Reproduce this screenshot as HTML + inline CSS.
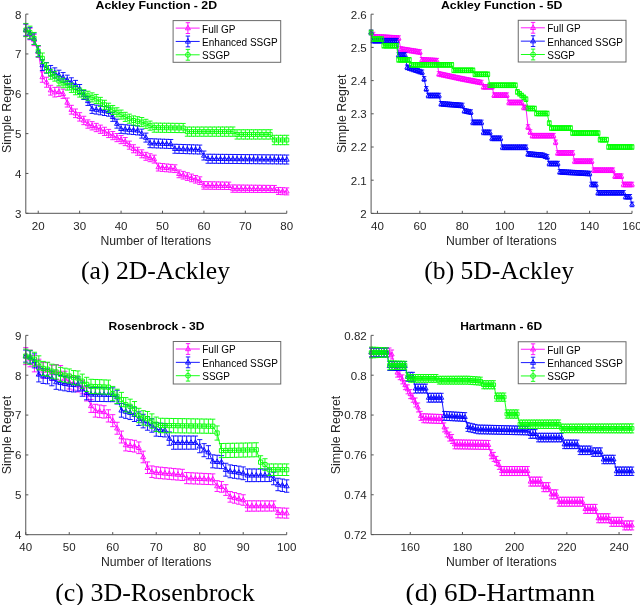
<!DOCTYPE html>
<html><head><meta charset="utf-8"><style>
html,body{margin:0;padding:0;background:#fff;width:640px;height:605px;overflow:hidden}
svg{display:block;will-change:transform}
</style></head><body>
<svg width="640" height="605" viewBox="0 0 640 605">
<rect width="640" height="605" fill="#fff"/>
<polyline fill="none" stroke="#ff00ff" stroke-width="0.9" points="25.8,30.04 29.94,34.02 34.08,40 38.23,51.95 42.37,77.05 46.51,82.23 50.65,90.19 54.79,92.19 58.94,91.79 63.08,93.78 67.22,102.54 71.36,109.72 75.5,113.3 79.65,116.89 83.79,120.47 87.93,124.06 92.07,125.78 96.22,127.51 100.36,129.24 104.5,131.36 108.64,133.49 112.78,135.61 116.93,137.6 121.07,139.6 125.21,141.59 129.35,145.17 133.49,148.76 137.64,151.28 141.78,153.81 145.92,156.33 150.06,157.72 154.2,159.12 158.35,167.09 162.49,167.48 166.63,167.88 170.77,168.28 174.91,168.68 179.06,173.86 183.2,175.21 187.34,176.57 191.48,177.92 195.62,179.28 199.77,180.63 203.91,185.41 208.05,185.48 212.19,185.54 216.33,185.61 220.48,185.68 224.62,185.74 228.76,185.81 232.9,188.6 237.05,188.64 241.19,188.68 245.33,188.72 249.47,188.76 253.61,188.8 257.76,188.84 261.9,188.88 266.04,188.92 270.18,188.96 274.32,189 278.47,190.99 282.61,191.19 286.75,191.39"/>
<path fill="none" stroke="#ff00ff" stroke-width="0.9" d="M25.8 24.04V36.04M23.3 24.04h5M23.3 36.04h5M29.94 28.22V39.82M27.44 28.22h5M27.44 39.82h5M34.08 34.4V45.6M31.58 34.4h5M31.58 45.6h5M38.23 46.55V57.35M35.73 46.55h5M35.73 57.35h5M42.37 71.85V82.25M39.87 71.85h5M39.87 82.25h5M46.51 77.23V87.23M44.01 77.23h5M44.01 87.23h5M50.65 85.29V95.09M48.15 85.29h5M48.15 95.09h5M54.79 87.39V96.99M52.29 87.39h5M52.29 96.99h5M58.94 87.09V96.49M56.44 87.09h5M56.44 96.49h5M63.08 89.18V98.38M60.58 89.18h5M60.58 98.38h5M67.22 98.04V107.04M64.72 98.04h5M64.72 107.04h5M71.36 105.32V114.12M68.86 105.32h5M68.86 114.12h5M75.5 109V117.6M73 109h5M73 117.6h5M79.65 112.69V121.09M77.15 112.69h5M77.15 121.09h5M83.79 116.29V124.66M81.29 116.29h5M81.29 124.66h5M87.93 119.89V128.23M85.43 119.89h5M85.43 128.23h5M92.07 121.63V129.94M89.57 121.63h5M89.57 129.94h5M96.22 123.37V131.66M93.72 123.37h5M93.72 131.66h5M100.36 125.11V133.37M97.86 125.11h5M97.86 133.37h5M104.5 127.25V135.48M102 127.25h5M102 135.48h5M108.64 129.39V137.59M106.14 129.39h5M106.14 137.59h5M112.78 131.52V139.7M110.28 131.52h5M110.28 139.7h5M116.93 133.53V141.68M114.43 133.53h5M114.43 141.68h5M121.07 135.54V143.66M118.57 135.54h5M118.57 143.66h5M125.21 137.54V145.63M122.71 137.54h5M122.71 145.63h5M129.35 141.14V149.21M126.85 141.14h5M126.85 149.21h5M133.49 144.74V152.78M130.99 144.74h5M130.99 152.78h5M137.64 147.28V155.29M135.14 147.28h5M135.14 155.29h5M141.78 149.82V157.8M139.28 149.82h5M139.28 157.8h5M145.92 152.35V160.3M143.42 152.35h5M143.42 160.3h5M150.06 153.76V161.69M147.56 153.76h5M147.56 161.69h5M154.2 155.17V163.07M151.7 155.17h5M151.7 163.07h5M158.35 163.15V171.02M155.85 163.15h5M155.85 171.02h5M162.49 163.56V171.4M159.99 163.56h5M159.99 171.4h5M166.63 163.98V171.79M164.13 163.98h5M164.13 171.79h5M170.77 164.39V172.17M168.27 164.39h5M168.27 172.17h5M174.91 164.8V172.56M172.41 164.8h5M172.41 172.56h5M179.06 169.99V177.72M176.56 169.99h5M176.56 177.72h5M183.2 171.36V179.06M180.7 171.36h5M180.7 179.06h5M187.34 172.73V180.4M184.84 172.73h5M184.84 180.4h5M191.48 174.1V181.74M188.98 174.1h5M188.98 181.74h5M195.62 175.47V183.08M193.12 175.47h5M193.12 183.08h5M199.77 176.84V184.43M197.27 176.84h5M197.27 184.43h5M203.91 181.63V189.19M201.41 181.63h5M201.41 189.19h5M208.05 181.71V189.24M205.55 181.71h5M205.55 189.24h5M212.19 181.79V189.3M209.69 181.79h5M209.69 189.3h5M216.33 181.87V189.35M213.83 181.87h5M213.83 189.35h5M220.48 181.95V189.4M217.98 181.95h5M217.98 189.4h5M224.62 182.03V189.45M222.12 182.03h5M222.12 189.45h5M228.76 182.11V189.51M226.26 182.11h5M226.26 189.51h5M232.9 184.92V192.28M230.4 184.92h5M230.4 192.28h5M237.05 184.97V192.31M234.55 184.97h5M234.55 192.31h5M241.19 185.02V192.33M238.69 185.02h5M238.69 192.33h5M245.33 185.08V192.36M242.83 185.08h5M242.83 192.36h5M249.47 185.13V192.38M246.97 185.13h5M246.97 192.38h5M253.61 185.19V192.41M251.11 185.19h5M251.11 192.41h5M257.76 185.24V192.44M255.26 185.24h5M255.26 192.44h5M261.9 185.29V192.46M259.4 185.29h5M259.4 192.46h5M266.04 185.35V192.49M263.54 185.35h5M263.54 192.49h5M270.18 185.4V192.51M267.68 185.4h5M267.68 192.51h5M274.32 185.46V192.54M271.82 185.46h5M271.82 192.54h5M278.47 187.46V194.52M275.97 187.46h5M275.97 194.52h5M282.61 187.67V194.7M280.11 187.67h5M280.11 194.7h5M286.75 187.89V194.89M284.25 187.89h5M284.25 194.89h5"/>
<path fill="none" stroke="#ff00ff" stroke-width="0.9" d="M25.8 27.31l2.42 4.4h-4.84zM29.94 31.29l2.42 4.4h-4.84zM34.08 37.27l2.42 4.4h-4.84zM38.23 49.22l2.42 4.4h-4.84zM42.37 74.32l2.42 4.4h-4.84zM46.51 79.5l2.42 4.4h-4.84zM50.65 87.47l2.42 4.4h-4.84zM54.79 89.46l2.42 4.4h-4.84zM58.94 89.06l2.42 4.4h-4.84zM63.08 91.05l2.42 4.4h-4.84zM67.22 99.82l2.42 4.4h-4.84zM71.36 106.99l2.42 4.4h-4.84zM75.5 110.57l2.42 4.4h-4.84zM79.65 114.16l2.42 4.4h-4.84zM83.79 117.74l2.42 4.4h-4.84zM87.93 121.33l2.42 4.4h-4.84zM92.07 123.06l2.42 4.4h-4.84zM96.22 124.78l2.42 4.4h-4.84zM100.36 126.51l2.42 4.4h-4.84zM104.5 128.63l2.42 4.4h-4.84zM108.64 130.76l2.42 4.4h-4.84zM112.78 132.88l2.42 4.4h-4.84zM116.93 134.88l2.42 4.4h-4.84zM121.07 136.87l2.42 4.4h-4.84zM125.21 138.86l2.42 4.4h-4.84zM129.35 142.45l2.42 4.4h-4.84zM133.49 146.03l2.42 4.4h-4.84zM137.64 148.55l2.42 4.4h-4.84zM141.78 151.08l2.42 4.4h-4.84zM145.92 153.6l2.42 4.4h-4.84zM150.06 155l2.42 4.4h-4.84zM154.2 156.39l2.42 4.4h-4.84zM158.35 164.36l2.42 4.4h-4.84zM162.49 164.76l2.42 4.4h-4.84zM166.63 165.15l2.42 4.4h-4.84zM170.77 165.55l2.42 4.4h-4.84zM174.91 165.95l2.42 4.4h-4.84zM179.06 171.13l2.42 4.4h-4.84zM183.2 172.48l2.42 4.4h-4.84zM187.34 173.84l2.42 4.4h-4.84zM191.48 175.19l2.42 4.4h-4.84zM195.62 176.55l2.42 4.4h-4.84zM199.77 177.9l2.42 4.4h-4.84zM203.91 182.68l2.42 4.4h-4.84zM208.05 182.75l2.42 4.4h-4.84zM212.19 182.82l2.42 4.4h-4.84zM216.33 182.88l2.42 4.4h-4.84zM220.48 182.95l2.42 4.4h-4.84zM224.62 183.02l2.42 4.4h-4.84zM228.76 183.08l2.42 4.4h-4.84zM232.9 185.87l2.42 4.4h-4.84zM237.05 185.91l2.42 4.4h-4.84zM241.19 185.95l2.42 4.4h-4.84zM245.33 185.99l2.42 4.4h-4.84zM249.47 186.03l2.42 4.4h-4.84zM253.61 186.07l2.42 4.4h-4.84zM257.76 186.11l2.42 4.4h-4.84zM261.9 186.15l2.42 4.4h-4.84zM266.04 186.19l2.42 4.4h-4.84zM270.18 186.23l2.42 4.4h-4.84zM274.32 186.27l2.42 4.4h-4.84zM278.47 188.26l2.42 4.4h-4.84zM282.61 188.46l2.42 4.4h-4.84zM286.75 188.66l2.42 4.4h-4.84z"/>
<polyline fill="none" stroke="#0000ff" stroke-width="0.9" points="25.8,30.04 29.94,33.22 34.08,38.8 38.23,51.15 42.37,65.1 46.51,67.88 50.65,70.67 54.79,72.93 58.94,75.19 63.08,77.45 67.22,79.97 71.36,82.49 75.5,85.02 79.65,89 83.79,94.98 87.93,100.95 92.07,108.92 96.22,109.62 100.36,110.31 104.5,111.01 108.64,111.71 112.78,116.89 116.93,123.66 121.07,128.84 125.21,129.24 129.35,129.64 133.49,130.03 137.64,130.43 141.78,133.62 145.92,137.6 150.06,143.18 154.2,143.34 158.35,143.5 162.49,143.66 166.63,143.82 170.77,143.98 174.91,148.76 179.06,148.89 183.2,149.02 187.34,149.16 191.48,149.29 195.62,149.42 199.77,149.56 203.91,155.53 208.05,158.72 212.19,158.76 216.33,158.8 220.48,158.85 224.62,158.89 228.76,158.93 232.9,158.97 237.05,159.01 241.19,159.05 245.33,159.1 249.47,159.14 253.61,159.18 257.76,159.22 261.9,159.26 266.04,159.31 270.18,159.35 274.32,159.39 278.47,159.43 282.61,159.47 286.75,159.52"/>
<path fill="none" stroke="#0000ff" stroke-width="0.9" d="M25.8 24.04V36.04M23.3 24.04h5M23.3 36.04h5M29.94 27.36V39.08M27.44 27.36h5M27.44 39.08h5M34.08 33.08V44.52M31.58 33.08h5M31.58 44.52h5M38.23 45.57V56.73M35.73 45.57h5M35.73 56.73h5M42.37 59.66V70.54M39.87 59.66h5M39.87 70.54h5M46.51 62.58V73.18M44.01 62.58h5M44.01 73.18h5M50.65 65.47V75.87M48.15 65.47h5M48.15 75.87h5M54.79 67.83V78.03M52.29 67.83h5M52.29 78.03h5M58.94 70.19V80.19M56.44 70.19h5M56.44 80.19h5M63.08 72.55V82.35M60.58 72.55h5M60.58 82.35h5M67.22 75.17V84.77M64.72 75.17h5M64.72 84.77h5M71.36 77.79V87.19M68.86 77.79h5M68.86 87.19h5M75.5 80.42V89.62M73 80.42h5M73 89.62h5M79.65 84.5V93.5M77.15 84.5h5M77.15 93.5h5M83.79 90.48V99.48M81.29 90.48h5M81.29 99.48h5M87.93 96.45V105.45M85.43 96.45h5M85.43 105.45h5M92.07 104.42V113.42M89.57 104.42h5M89.57 113.42h5M96.22 105.12V114.12M93.72 105.12h5M93.72 114.12h5M100.36 105.81V114.81M97.86 105.81h5M97.86 114.81h5M104.5 106.51V115.51M102 106.51h5M102 115.51h5M108.64 107.21V116.21M106.14 107.21h5M106.14 116.21h5M112.78 112.39V121.39M110.28 112.39h5M110.28 121.39h5M116.93 119.16V128.16M114.43 119.16h5M114.43 128.16h5M121.07 124.34V133.34M118.57 124.34h5M118.57 133.34h5M125.21 124.74V133.74M122.71 124.74h5M122.71 133.74h5M129.35 125.14V134.14M126.85 125.14h5M126.85 134.14h5M133.49 125.53V134.53M130.99 125.53h5M130.99 134.53h5M137.64 125.93V134.93M135.14 125.93h5M135.14 134.93h5M141.78 129.12V138.12M139.28 129.12h5M139.28 138.12h5M145.92 133.1V142.1M143.42 133.1h5M143.42 142.1h5M150.06 138.68V147.68M147.56 138.68h5M147.56 147.68h5M154.2 138.84V147.84M151.7 138.84h5M151.7 147.84h5M158.35 139V148M155.85 139h5M155.85 148h5M162.49 139.16V148.16M159.99 139.16h5M159.99 148.16h5M166.63 139.32V148.32M164.13 139.32h5M164.13 148.32h5M170.77 139.48V148.48M168.27 139.48h5M168.27 148.48h5M174.91 144.26V153.26M172.41 144.26h5M172.41 153.26h5M179.06 144.39V153.39M176.56 144.39h5M176.56 153.39h5M183.2 144.52V153.52M180.7 144.52h5M180.7 153.52h5M187.34 144.66V153.66M184.84 144.66h5M184.84 153.66h5M191.48 144.79V153.79M188.98 144.79h5M188.98 153.79h5M195.62 144.92V153.92M193.12 144.92h5M193.12 153.92h5M199.77 145.06V154.06M197.27 145.06h5M197.27 154.06h5M203.91 151.03V160.03M201.41 151.03h5M201.41 160.03h5M208.05 154.22V163.22M205.55 154.22h5M205.55 163.22h5M212.19 154.26V163.26M209.69 154.26h5M209.69 163.26h5M216.33 154.3V163.3M213.83 154.3h5M213.83 163.3h5M220.48 154.35V163.35M217.98 154.35h5M217.98 163.35h5M224.62 154.39V163.39M222.12 154.39h5M222.12 163.39h5M228.76 154.43V163.43M226.26 154.43h5M226.26 163.43h5M232.9 154.47V163.47M230.4 154.47h5M230.4 163.47h5M237.05 154.51V163.51M234.55 154.51h5M234.55 163.51h5M241.19 154.55V163.55M238.69 154.55h5M238.69 163.55h5M245.33 154.6V163.6M242.83 154.6h5M242.83 163.6h5M249.47 154.64V163.64M246.97 154.64h5M246.97 163.64h5M253.61 154.68V163.68M251.11 154.68h5M251.11 163.68h5M257.76 154.72V163.72M255.26 154.72h5M255.26 163.72h5M261.9 154.76V163.76M259.4 154.76h5M259.4 163.76h5M266.04 154.81V163.81M263.54 154.81h5M263.54 163.81h5M270.18 154.85V163.85M267.68 154.85h5M267.68 163.85h5M274.32 154.89V163.89M271.82 154.89h5M271.82 163.89h5M278.47 154.93V163.93M275.97 154.93h5M275.97 163.93h5M282.61 154.97V163.97M280.11 154.97h5M280.11 163.97h5M286.75 155.02V164.02M284.25 155.02h5M284.25 164.02h5"/>
<path fill="none" stroke="#0000ff" stroke-width="0.9" d="M25.8 27.31l2.42 4.4h-4.84zM29.94 30.5l2.42 4.4h-4.84zM34.08 36.07l2.42 4.4h-4.84zM38.23 48.42l2.42 4.4h-4.84zM42.37 62.37l2.42 4.4h-4.84zM46.51 65.16l2.42 4.4h-4.84zM50.65 67.94l2.42 4.4h-4.84zM54.79 70.2l2.42 4.4h-4.84zM58.94 72.46l2.42 4.4h-4.84zM63.08 74.72l2.42 4.4h-4.84zM67.22 77.24l2.42 4.4h-4.84zM71.36 79.76l2.42 4.4h-4.84zM75.5 82.29l2.42 4.4h-4.84zM79.65 86.27l2.42 4.4h-4.84zM83.79 92.25l2.42 4.4h-4.84zM87.93 98.22l2.42 4.4h-4.84zM92.07 106.19l2.42 4.4h-4.84zM96.22 106.89l2.42 4.4h-4.84zM100.36 107.59l2.42 4.4h-4.84zM104.5 108.28l2.42 4.4h-4.84zM108.64 108.98l2.42 4.4h-4.84zM112.78 114.16l2.42 4.4h-4.84zM116.93 120.93l2.42 4.4h-4.84zM121.07 126.11l2.42 4.4h-4.84zM125.21 126.51l2.42 4.4h-4.84zM129.35 126.91l2.42 4.4h-4.84zM133.49 127.31l2.42 4.4h-4.84zM137.64 127.7l2.42 4.4h-4.84zM141.78 130.89l2.42 4.4h-4.84zM145.92 134.88l2.42 4.4h-4.84zM150.06 140.45l2.42 4.4h-4.84zM154.2 140.61l2.42 4.4h-4.84zM158.35 140.77l2.42 4.4h-4.84zM162.49 140.93l2.42 4.4h-4.84zM166.63 141.09l2.42 4.4h-4.84zM170.77 141.25l2.42 4.4h-4.84zM174.91 146.03l2.42 4.4h-4.84zM179.06 146.16l2.42 4.4h-4.84zM183.2 146.3l2.42 4.4h-4.84zM187.34 146.43l2.42 4.4h-4.84zM191.48 146.56l2.42 4.4h-4.84zM195.62 146.7l2.42 4.4h-4.84zM199.77 146.83l2.42 4.4h-4.84zM203.91 152.8l2.42 4.4h-4.84zM208.05 155.99l2.42 4.4h-4.84zM212.19 156.03l2.42 4.4h-4.84zM216.33 156.08l2.42 4.4h-4.84zM220.48 156.12l2.42 4.4h-4.84zM224.62 156.16l2.42 4.4h-4.84zM228.76 156.2l2.42 4.4h-4.84zM232.9 156.24l2.42 4.4h-4.84zM237.05 156.28l2.42 4.4h-4.84zM241.19 156.33l2.42 4.4h-4.84zM245.33 156.37l2.42 4.4h-4.84zM249.47 156.41l2.42 4.4h-4.84zM253.61 156.45l2.42 4.4h-4.84zM257.76 156.49l2.42 4.4h-4.84zM261.9 156.54l2.42 4.4h-4.84zM266.04 156.58l2.42 4.4h-4.84zM270.18 156.62l2.42 4.4h-4.84zM274.32 156.66l2.42 4.4h-4.84zM278.47 156.7l2.42 4.4h-4.84zM282.61 156.75l2.42 4.4h-4.84zM286.75 156.79l2.42 4.4h-4.84z"/>
<polyline fill="none" stroke="#00ff00" stroke-width="0.9" points="25.8,30.04 29.94,32.43 34.08,38.4 38.23,51.15 42.37,58.32 46.51,67.88 50.65,74.26 54.79,76.25 58.94,81.03 63.08,83.02 67.22,85.41 71.36,87.8 75.5,90.19 79.65,92.58 83.79,94.18 87.93,95.77 92.07,97.37 96.22,98.96 100.36,101.88 104.5,104.8 108.64,107.72 112.78,110.01 116.93,112.31 121.07,114.6 125.21,116.89 129.35,118.68 133.49,120.47 137.64,121.27 141.78,122.07 145.92,123.86 150.06,125.65 154.2,127.64 158.35,127.7 162.49,127.76 166.63,127.81 170.77,127.87 174.91,127.93 179.06,127.99 183.2,128.04 187.34,131.63 191.48,131.63 195.62,131.63 199.77,131.63 203.91,131.63 208.05,131.63 212.19,131.63 216.33,131.63 220.48,131.63 224.62,131.63 228.76,131.63 232.9,131.63 237.05,134.42 241.19,134.42 245.33,134.42 249.47,134.42 253.61,134.42 257.76,134.42 261.9,134.42 266.04,134.42 270.18,134.42 274.32,139.99 278.47,139.99 282.61,139.99 286.75,139.99"/>
<path fill="none" stroke="#00ff00" stroke-width="0.9" d="M25.8 23.44V36.64M23.3 23.44h5M23.3 36.64h5M29.94 26.15V38.71M27.44 26.15h5M27.44 38.71h5M34.08 32.44V44.36M31.58 32.44h5M31.58 44.36h5M38.23 45.51V56.79M35.73 45.51h5M35.73 56.79h5M42.37 53V63.64M39.87 53h5M39.87 63.64h5M46.51 62.88V72.88M44.01 62.88h5M44.01 72.88h5M50.65 69.32V79.2M48.15 69.32h5M48.15 79.2h5M54.79 71.38V81.13M52.29 71.38h5M52.29 81.13h5M58.94 76.22V85.84M56.44 76.22h5M56.44 85.84h5M63.08 78.27V87.77M60.58 78.27h5M60.58 87.77h5M67.22 80.73V90.1M64.72 80.73h5M64.72 90.1h5M71.36 83.18V92.43M68.86 83.18h5M68.86 92.43h5M75.5 85.63V94.76M73 85.63h5M73 94.76h5M79.65 88.08V97.08M77.15 88.08h5M77.15 97.08h5M83.79 89.67V98.68M81.29 89.67h5M81.29 98.68h5M87.93 91.26V100.28M85.43 91.26h5M85.43 100.28h5M92.07 92.85V101.88M89.57 92.85h5M89.57 101.88h5M96.22 94.44V103.48M93.72 94.44h5M93.72 103.48h5M100.36 97.36V106.4M97.86 97.36h5M97.86 106.4h5M104.5 100.28V109.33M102 100.28h5M102 109.33h5M108.64 103.2V112.25M106.14 103.2h5M106.14 112.25h5M112.78 105.48V114.55M110.28 105.48h5M110.28 114.55h5M116.93 107.77V116.84M114.43 107.77h5M114.43 116.84h5M121.07 110.06V119.14M118.57 110.06h5M118.57 119.14h5M125.21 112.34V121.43M122.71 112.34h5M122.71 121.43h5M129.35 114.13V123.23M126.85 114.13h5M126.85 123.23h5M133.49 115.92V125.02M130.99 115.92h5M130.99 125.02h5M137.64 116.71V125.83M135.14 116.71h5M135.14 125.83h5M141.78 117.51V126.63M139.28 117.51h5M139.28 126.63h5M145.92 119.3V128.42M143.42 119.3h5M143.42 128.42h5M150.06 121.08V130.22M147.56 121.08h5M147.56 130.22h5M154.2 123.07V132.22M151.7 123.07h5M151.7 132.22h5M158.35 123.12V132.28M155.85 123.12h5M155.85 132.28h5M162.49 123.18V132.34M159.99 123.18h5M159.99 132.34h5M166.63 123.23V132.4M164.13 123.23h5M164.13 132.4h5M170.77 123.28V132.46M168.27 123.28h5M168.27 132.46h5M174.91 123.34V132.52M172.41 123.34h5M172.41 132.52h5M179.06 123.39V132.58M176.56 123.39h5M176.56 132.58h5M183.2 123.44V132.64M180.7 123.44h5M180.7 132.64h5M187.34 127.02V136.23M184.84 127.02h5M184.84 136.23h5M191.48 127.02V136.24M188.98 127.02h5M188.98 136.24h5M195.62 127.02V136.24M193.12 127.02h5M193.12 136.24h5M199.77 127.01V136.24M197.27 127.01h5M197.27 136.24h5M203.91 127.01V136.25M201.41 127.01h5M201.41 136.25h5M208.05 127V136.25M205.55 127h5M205.55 136.25h5M212.19 127V136.26M209.69 127h5M209.69 136.26h5M216.33 127V136.26M213.83 127h5M213.83 136.26h5M220.48 126.99V136.26M217.98 126.99h5M217.98 136.26h5M224.62 126.99V136.27M222.12 126.99h5M222.12 136.27h5M228.76 126.98V136.27M226.26 126.98h5M226.26 136.27h5M232.9 126.98V136.28M230.4 126.98h5M230.4 136.28h5M237.05 129.76V139.07M234.55 129.76h5M234.55 139.07h5M241.19 129.76V139.07M238.69 129.76h5M238.69 139.07h5M245.33 129.76V139.08M242.83 129.76h5M242.83 139.08h5M249.47 129.75V139.08M246.97 129.75h5M246.97 139.08h5M253.61 129.75V139.08M251.11 129.75h5M251.11 139.08h5M257.76 129.74V139.09M255.26 129.74h5M255.26 139.09h5M261.9 129.74V139.09M259.4 129.74h5M259.4 139.09h5M266.04 129.74V139.1M263.54 129.74h5M263.54 139.1h5M270.18 129.73V139.1M267.68 129.73h5M267.68 139.1h5M274.32 135.31V144.68M271.82 135.31h5M271.82 144.68h5M278.47 135.3V144.69M275.97 135.3h5M275.97 144.69h5M282.61 135.3V144.69M280.11 135.3h5M280.11 144.69h5M286.75 135.29V144.69M284.25 135.29h5M284.25 144.69h5"/>
<path fill="none" stroke="#00ff00" stroke-width="0.9" d="M23.8 28.04h4v4h-4zM27.94 30.43h4v4h-4zM32.08 36.4h4v4h-4zM36.23 49.15h4v4h-4zM40.37 56.32h4v4h-4zM44.51 65.88h4v4h-4zM48.65 72.26h4v4h-4zM52.79 74.25h4v4h-4zM56.94 79.03h4v4h-4zM61.08 81.02h4v4h-4zM65.22 83.41h4v4h-4zM69.36 85.8h4v4h-4zM73.5 88.19h4v4h-4zM77.65 90.58h4v4h-4zM81.79 92.18h4v4h-4zM85.93 93.77h4v4h-4zM90.07 95.37h4v4h-4zM94.22 96.96h4v4h-4zM98.36 99.88h4v4h-4zM102.5 102.8h4v4h-4zM106.64 105.72h4v4h-4zM110.78 108.01h4v4h-4zM114.93 110.31h4v4h-4zM119.07 112.6h4v4h-4zM123.21 114.89h4v4h-4zM127.35 116.68h4v4h-4zM131.49 118.47h4v4h-4zM135.64 119.27h4v4h-4zM139.78 120.07h4v4h-4zM143.92 121.86h4v4h-4zM148.06 123.65h4v4h-4zM152.2 125.64h4v4h-4zM156.35 125.7h4v4h-4zM160.49 125.76h4v4h-4zM164.63 125.81h4v4h-4zM168.77 125.87h4v4h-4zM172.91 125.93h4v4h-4zM177.06 125.99h4v4h-4zM181.2 126.04h4v4h-4zM185.34 129.63h4v4h-4zM189.48 129.63h4v4h-4zM193.62 129.63h4v4h-4zM197.77 129.63h4v4h-4zM201.91 129.63h4v4h-4zM206.05 129.63h4v4h-4zM210.19 129.63h4v4h-4zM214.33 129.63h4v4h-4zM218.48 129.63h4v4h-4zM222.62 129.63h4v4h-4zM226.76 129.63h4v4h-4zM230.9 129.63h4v4h-4zM235.05 132.42h4v4h-4zM239.19 132.42h4v4h-4zM243.33 132.42h4v4h-4zM247.47 132.42h4v4h-4zM251.61 132.42h4v4h-4zM255.76 132.42h4v4h-4zM259.9 132.42h4v4h-4zM264.04 132.42h4v4h-4zM268.18 132.42h4v4h-4zM272.32 137.99h4v4h-4zM276.47 137.99h4v4h-4zM280.61 137.99h4v4h-4zM284.75 137.99h4v4h-4z"/>
<path fill="none" stroke="#555" stroke-width="1" d="M25.8 14.1V213.3H286.75M38.23 213.3v-2.6M79.65 213.3v-2.6M121.07 213.3v-2.6M162.49 213.3v-2.6M203.91 213.3v-2.6M245.33 213.3v-2.6M286.75 213.3v-2.6M25.8 213.3h2.6M25.8 173.46h2.6M25.8 133.62h2.6M25.8 93.78h2.6M25.8 53.94h2.6M25.8 14.1h2.6"/>
<text x="38.23" y="229.9" font-size="10.5" text-anchor="middle" font-weight="normal" font-family='"Liberation Sans", sans-serif' fill="#262626" textLength="12.84" lengthAdjust="spacingAndGlyphs">20</text>
<text x="79.65" y="229.9" font-size="10.5" text-anchor="middle" font-weight="normal" font-family='"Liberation Sans", sans-serif' fill="#262626" textLength="12.84" lengthAdjust="spacingAndGlyphs">30</text>
<text x="121.07" y="229.9" font-size="10.5" text-anchor="middle" font-weight="normal" font-family='"Liberation Sans", sans-serif' fill="#262626" textLength="12.84" lengthAdjust="spacingAndGlyphs">40</text>
<text x="162.49" y="229.9" font-size="10.5" text-anchor="middle" font-weight="normal" font-family='"Liberation Sans", sans-serif' fill="#262626" textLength="12.84" lengthAdjust="spacingAndGlyphs">50</text>
<text x="203.91" y="229.9" font-size="10.5" text-anchor="middle" font-weight="normal" font-family='"Liberation Sans", sans-serif' fill="#262626" textLength="12.84" lengthAdjust="spacingAndGlyphs">60</text>
<text x="245.33" y="229.9" font-size="10.5" text-anchor="middle" font-weight="normal" font-family='"Liberation Sans", sans-serif' fill="#262626" textLength="12.84" lengthAdjust="spacingAndGlyphs">70</text>
<text x="286.75" y="229.9" font-size="10.5" text-anchor="middle" font-weight="normal" font-family='"Liberation Sans", sans-serif' fill="#262626" textLength="12.84" lengthAdjust="spacingAndGlyphs">80</text>
<text x="21.5" y="217.7" font-size="10.5" text-anchor="end" font-weight="normal" font-family='"Liberation Sans", sans-serif' fill="#262626" textLength="6.42" lengthAdjust="spacingAndGlyphs">3</text>
<text x="21.5" y="177.86" font-size="10.5" text-anchor="end" font-weight="normal" font-family='"Liberation Sans", sans-serif' fill="#262626" textLength="6.42" lengthAdjust="spacingAndGlyphs">4</text>
<text x="21.5" y="138.02" font-size="10.5" text-anchor="end" font-weight="normal" font-family='"Liberation Sans", sans-serif' fill="#262626" textLength="6.42" lengthAdjust="spacingAndGlyphs">5</text>
<text x="21.5" y="98.18" font-size="10.5" text-anchor="end" font-weight="normal" font-family='"Liberation Sans", sans-serif' fill="#262626" textLength="6.42" lengthAdjust="spacingAndGlyphs">6</text>
<text x="21.5" y="58.34" font-size="10.5" text-anchor="end" font-weight="normal" font-family='"Liberation Sans", sans-serif' fill="#262626" textLength="6.42" lengthAdjust="spacingAndGlyphs">7</text>
<text x="21.5" y="18.5" font-size="10.5" text-anchor="end" font-weight="normal" font-family='"Liberation Sans", sans-serif' fill="#262626" textLength="6.42" lengthAdjust="spacingAndGlyphs">8</text>
<text x="156.3" y="9.1" font-size="11.7" text-anchor="middle" font-weight="bold" font-family='"Liberation Sans", sans-serif' fill="#000" textLength="121.5" lengthAdjust="spacingAndGlyphs">Ackley Function - 2D</text>
<text x="155.75" y="245.1" font-size="12.2" text-anchor="middle" font-weight="normal" font-family='"Liberation Sans", sans-serif' fill="#262626" textLength="110.5" lengthAdjust="spacingAndGlyphs">Number of Iterations</text>
<text transform="translate(10.9 113.7) rotate(-90)" font-size="12.3" text-anchor="middle" font-family='"Liberation Sans", sans-serif' fill="#262626" textLength="78.4" lengthAdjust="spacingAndGlyphs">Simple Regret</text>
<text x="155.5" y="278.6" font-size="25" text-anchor="middle" font-weight="normal" font-family='"Liberation Serif", serif' fill="#000" textLength="149" lengthAdjust="spacingAndGlyphs">(a) 2D-Ackley</text>
<rect x="173.1" y="20.6" width="107.6" height="41.7" fill="#fff" stroke="#6a6a6a" stroke-width="1"/>
<path fill="none" stroke="#ff00ff" stroke-width="0.9" d="M175.7 28.1h24M187.9 22.7v10.8M185.7 22.7h4.4M185.7 33.5h4.4M187.9 25.2l2.5 4.6h-5z"/>
<text x="202.1" y="32.5" font-size="10" text-anchor="start" font-weight="normal" font-family='"Liberation Sans", sans-serif' fill="#000" >Full GP</text>
<path fill="none" stroke="#0000ff" stroke-width="0.9" d="M175.7 41.45h24M187.9 36.05v10.8M185.7 36.05h4.4M185.7 46.85h4.4M187.9 38.55l2.5 4.6h-5z"/>
<text x="202.1" y="45.85" font-size="10" text-anchor="start" font-weight="normal" font-family='"Liberation Sans", sans-serif' fill="#000" >Enhanced SSGP</text>
<path fill="none" stroke="#00ff00" stroke-width="0.9" d="M175.7 54.8h24M187.9 49.4v10.8M185.7 49.4h4.4M185.7 60.2h4.4M185.5 54.8a2.4 2.4 0 1 0 4.8 0a2.4 2.4 0 1 0 -4.8 0"/>
<text x="202.1" y="59.2" font-size="10" text-anchor="start" font-weight="normal" font-family='"Liberation Sans", sans-serif' fill="#000" >SSGP</text>
<polyline fill="none" stroke="#ff00ff" stroke-width="0.9" points="371.1,32.46 373.22,34.62 375.34,36.78 377.46,36.9 379.58,37.02 381.71,37.14 383.83,37.26 385.95,37.38 388.07,37.5 390.19,37.62 392.31,37.74 394.43,37.86 396.55,37.98 398.67,38.1 400.8,49.06 402.92,49.39 405.04,49.72 407.16,50.06 409.28,50.39 411.4,50.72 413.52,51.05 415.64,51.38 417.77,51.72 419.89,52.05 422.01,59.85 424.13,59.97 426.25,60.09 428.37,60.21 430.49,60.32 432.61,60.44 434.73,60.56 436.86,60.68 438.98,73.96 441.1,74.41 443.22,74.87 445.34,75.32 447.46,75.77 449.58,76.22 451.7,76.68 453.82,77.13 455.95,77.58 458.07,78.03 460.19,78.49 462.31,78.94 464.43,79.35 466.55,79.75 468.67,80.16 470.79,80.56 472.91,80.97 475.04,81.37 477.16,81.78 479.28,82.19 481.4,82.59 483.52,86.91 485.64,86.91 487.76,86.91 489.88,86.91 492,86.91 494.13,95.21 496.25,95.21 498.37,95.21 500.49,95.21 502.61,95.21 504.73,95.21 506.85,95.21 508.97,102.51 511.1,102.51 513.22,102.51 515.34,102.51 517.46,102.51 519.58,102.51 521.7,102.51 523.82,107.49 525.94,107.49 528.06,127.08 530.19,132.06 532.31,135.71 534.43,135.71 536.55,135.71 538.67,135.71 540.79,135.71 542.91,135.71 545.03,135.71 547.15,135.71 549.28,135.71 551.4,135.71 553.52,135.71 555.64,142.35 557.76,152.98 559.88,152.98 562,152.98 564.12,152.98 566.24,152.98 568.37,152.98 570.49,152.98 572.61,152.98 574.73,161.28 576.85,161.28 578.97,161.28 581.09,161.28 583.21,161.28 585.33,161.28 587.46,161.28 589.58,161.28 591.7,161.28 593.82,170.24 595.94,170.24 598.06,170.24 600.18,170.24 602.3,170.24 604.43,170.24 606.55,170.24 608.67,170.24 610.79,170.24 612.91,170.24 615.03,176.22 617.15,176.22 619.27,176.22 621.39,176.22 623.52,184.52 625.64,184.52 627.76,184.52 629.88,184.52 632,184.52"/>
<path fill="none" stroke="#ff00ff" stroke-width="0.9" d="M371.1 30.16V34.76M368.9 30.16h4.4M368.9 34.76h4.4M373.22 32.32V36.92M371.02 32.32h4.4M371.02 36.92h4.4M375.34 34.48V39.08M373.14 34.48h4.4M373.14 39.08h4.4M377.46 34.6V39.2M375.26 34.6h4.4M375.26 39.2h4.4M379.58 34.72V39.32M377.38 34.72h4.4M377.38 39.32h4.4M381.71 34.84V39.44M379.51 34.84h4.4M379.51 39.44h4.4M383.83 34.96V39.56M381.63 34.96h4.4M381.63 39.56h4.4M385.95 35.08V39.68M383.75 35.08h4.4M383.75 39.68h4.4M388.07 35.2V39.8M385.87 35.2h4.4M385.87 39.8h4.4M390.19 35.32V39.92M387.99 35.32h4.4M387.99 39.92h4.4M392.31 35.44V40.04M390.11 35.44h4.4M390.11 40.04h4.4M394.43 35.56V40.16M392.23 35.56h4.4M392.23 40.16h4.4M396.55 35.68V40.28M394.35 35.68h4.4M394.35 40.28h4.4M398.67 35.8V40.4M396.47 35.8h4.4M396.47 40.4h4.4M400.8 46.76V51.36M398.6 46.76h4.4M398.6 51.36h4.4M402.92 47.09V51.69M400.72 47.09h4.4M400.72 51.69h4.4M405.04 47.42V52.02M402.84 47.42h4.4M402.84 52.02h4.4M407.16 47.76V52.36M404.96 47.76h4.4M404.96 52.36h4.4M409.28 48.09V52.69M407.08 48.09h4.4M407.08 52.69h4.4M411.4 48.42V53.02M409.2 48.42h4.4M409.2 53.02h4.4M413.52 48.75V53.35M411.32 48.75h4.4M411.32 53.35h4.4M415.64 49.08V53.68M413.44 49.08h4.4M413.44 53.68h4.4M417.77 49.42V54.02M415.57 49.42h4.4M415.57 54.02h4.4M419.89 49.75V54.35M417.69 49.75h4.4M417.69 54.35h4.4M422.01 57.55V62.15M419.81 57.55h4.4M419.81 62.15h4.4M424.13 57.67V62.27M421.93 57.67h4.4M421.93 62.27h4.4M426.25 57.79V62.39M424.05 57.79h4.4M424.05 62.39h4.4M428.37 57.91V62.51M426.17 57.91h4.4M426.17 62.51h4.4M430.49 58.02V62.62M428.29 58.02h4.4M428.29 62.62h4.4M432.61 58.14V62.74M430.41 58.14h4.4M430.41 62.74h4.4M434.73 58.26V62.86M432.53 58.26h4.4M432.53 62.86h4.4M436.86 58.38V62.98M434.66 58.38h4.4M434.66 62.98h4.4M438.98 71.66V76.26M436.78 71.66h4.4M436.78 76.26h4.4M441.1 72.11V76.71M438.9 72.11h4.4M438.9 76.71h4.4M443.22 72.57V77.17M441.02 72.57h4.4M441.02 77.17h4.4M445.34 73.02V77.62M443.14 73.02h4.4M443.14 77.62h4.4M447.46 73.47V78.07M445.26 73.47h4.4M445.26 78.07h4.4M449.58 73.92V78.52M447.38 73.92h4.4M447.38 78.52h4.4M451.7 74.38V78.98M449.5 74.38h4.4M449.5 78.98h4.4M453.82 74.83V79.43M451.62 74.83h4.4M451.62 79.43h4.4M455.95 75.28V79.88M453.75 75.28h4.4M453.75 79.88h4.4M458.07 75.73V80.33M455.87 75.73h4.4M455.87 80.33h4.4M460.19 76.19V80.79M457.99 76.19h4.4M457.99 80.79h4.4M462.31 76.64V81.24M460.11 76.64h4.4M460.11 81.24h4.4M464.43 77.05V81.65M462.23 77.05h4.4M462.23 81.65h4.4M466.55 77.45V82.05M464.35 77.45h4.4M464.35 82.05h4.4M468.67 77.86V82.46M466.47 77.86h4.4M466.47 82.46h4.4M470.79 78.26V82.86M468.59 78.26h4.4M468.59 82.86h4.4M472.91 78.67V83.27M470.71 78.67h4.4M470.71 83.27h4.4M475.04 79.07V83.67M472.84 79.07h4.4M472.84 83.67h4.4M477.16 79.48V84.08M474.96 79.48h4.4M474.96 84.08h4.4M479.28 79.89V84.49M477.08 79.89h4.4M477.08 84.49h4.4M481.4 80.29V84.89M479.2 80.29h4.4M479.2 84.89h4.4M483.52 84.61V89.21M481.32 84.61h4.4M481.32 89.21h4.4M485.64 84.61V89.21M483.44 84.61h4.4M483.44 89.21h4.4M487.76 84.61V89.21M485.56 84.61h4.4M485.56 89.21h4.4M489.88 84.61V89.21M487.68 84.61h4.4M487.68 89.21h4.4M492 84.61V89.21M489.8 84.61h4.4M489.8 89.21h4.4M494.13 92.91V97.51M491.93 92.91h4.4M491.93 97.51h4.4M496.25 92.91V97.51M494.05 92.91h4.4M494.05 97.51h4.4M498.37 92.91V97.51M496.17 92.91h4.4M496.17 97.51h4.4M500.49 92.91V97.51M498.29 92.91h4.4M498.29 97.51h4.4M502.61 92.91V97.51M500.41 92.91h4.4M500.41 97.51h4.4M504.73 92.91V97.51M502.53 92.91h4.4M502.53 97.51h4.4M506.85 92.91V97.51M504.65 92.91h4.4M504.65 97.51h4.4M508.97 100.21V104.81M506.77 100.21h4.4M506.77 104.81h4.4M511.1 100.21V104.81M508.9 100.21h4.4M508.9 104.81h4.4M513.22 100.21V104.81M511.02 100.21h4.4M511.02 104.81h4.4M515.34 100.21V104.81M513.14 100.21h4.4M513.14 104.81h4.4M517.46 100.21V104.81M515.26 100.21h4.4M515.26 104.81h4.4M519.58 100.21V104.81M517.38 100.21h4.4M517.38 104.81h4.4M521.7 100.21V104.81M519.5 100.21h4.4M519.5 104.81h4.4M523.82 105.19V109.79M521.62 105.19h4.4M521.62 109.79h4.4M525.94 105.19V109.79M523.74 105.19h4.4M523.74 109.79h4.4M528.06 124.78V129.38M525.86 124.78h4.4M525.86 129.38h4.4M530.19 129.76V134.36M527.99 129.76h4.4M527.99 134.36h4.4M532.31 133.41V138.01M530.11 133.41h4.4M530.11 138.01h4.4M534.43 133.41V138.01M532.23 133.41h4.4M532.23 138.01h4.4M536.55 133.41V138.01M534.35 133.41h4.4M534.35 138.01h4.4M538.67 133.41V138.01M536.47 133.41h4.4M536.47 138.01h4.4M540.79 133.41V138.01M538.59 133.41h4.4M538.59 138.01h4.4M542.91 133.41V138.01M540.71 133.41h4.4M540.71 138.01h4.4M545.03 133.41V138.01M542.83 133.41h4.4M542.83 138.01h4.4M547.15 133.41V138.01M544.95 133.41h4.4M544.95 138.01h4.4M549.28 133.41V138.01M547.08 133.41h4.4M547.08 138.01h4.4M551.4 133.41V138.01M549.2 133.41h4.4M549.2 138.01h4.4M553.52 133.41V138.01M551.32 133.41h4.4M551.32 138.01h4.4M555.64 140.05V144.65M553.44 140.05h4.4M553.44 144.65h4.4M557.76 150.68V155.28M555.56 150.68h4.4M555.56 155.28h4.4M559.88 150.68V155.28M557.68 150.68h4.4M557.68 155.28h4.4M562 150.68V155.28M559.8 150.68h4.4M559.8 155.28h4.4M564.12 150.68V155.28M561.92 150.68h4.4M561.92 155.28h4.4M566.24 150.68V155.28M564.04 150.68h4.4M564.04 155.28h4.4M568.37 150.68V155.28M566.17 150.68h4.4M566.17 155.28h4.4M570.49 150.68V155.28M568.29 150.68h4.4M568.29 155.28h4.4M572.61 150.68V155.28M570.41 150.68h4.4M570.41 155.28h4.4M574.73 158.98V163.58M572.53 158.98h4.4M572.53 163.58h4.4M576.85 158.98V163.58M574.65 158.98h4.4M574.65 163.58h4.4M578.97 158.98V163.58M576.77 158.98h4.4M576.77 163.58h4.4M581.09 158.98V163.58M578.89 158.98h4.4M578.89 163.58h4.4M583.21 158.98V163.58M581.01 158.98h4.4M581.01 163.58h4.4M585.33 158.98V163.58M583.13 158.98h4.4M583.13 163.58h4.4M587.46 158.98V163.58M585.26 158.98h4.4M585.26 163.58h4.4M589.58 158.98V163.58M587.38 158.98h4.4M587.38 163.58h4.4M591.7 158.98V163.58M589.5 158.98h4.4M589.5 163.58h4.4M593.82 167.94V172.54M591.62 167.94h4.4M591.62 172.54h4.4M595.94 167.94V172.54M593.74 167.94h4.4M593.74 172.54h4.4M598.06 167.94V172.54M595.86 167.94h4.4M595.86 172.54h4.4M600.18 167.94V172.54M597.98 167.94h4.4M597.98 172.54h4.4M602.3 167.94V172.54M600.1 167.94h4.4M600.1 172.54h4.4M604.43 167.94V172.54M602.23 167.94h4.4M602.23 172.54h4.4M606.55 167.94V172.54M604.35 167.94h4.4M604.35 172.54h4.4M608.67 167.94V172.54M606.47 167.94h4.4M606.47 172.54h4.4M610.79 167.94V172.54M608.59 167.94h4.4M608.59 172.54h4.4M612.91 167.94V172.54M610.71 167.94h4.4M610.71 172.54h4.4M615.03 173.92V178.52M612.83 173.92h4.4M612.83 178.52h4.4M617.15 173.92V178.52M614.95 173.92h4.4M614.95 178.52h4.4M619.27 173.92V178.52M617.07 173.92h4.4M617.07 178.52h4.4M621.39 173.92V178.52M619.19 173.92h4.4M619.19 178.52h4.4M623.52 182.22V186.82M621.32 182.22h4.4M621.32 186.82h4.4M625.64 182.22V186.82M623.44 182.22h4.4M623.44 186.82h4.4M627.76 182.22V186.82M625.56 182.22h4.4M625.56 186.82h4.4M629.88 182.22V186.82M627.68 182.22h4.4M627.68 186.82h4.4M632 182.22V186.82M629.8 182.22h4.4M629.8 186.82h4.4"/>
<path fill="none" stroke="#ff00ff" stroke-width="0.9" d="M371.1 29.86l2.31 4.2h-4.62zM373.22 32.01l2.31 4.2h-4.62zM375.34 34.17l2.31 4.2h-4.62zM377.46 34.29l2.31 4.2h-4.62zM379.58 34.41l2.31 4.2h-4.62zM381.71 34.53l2.31 4.2h-4.62zM383.83 34.65l2.31 4.2h-4.62zM385.95 34.78l2.31 4.2h-4.62zM388.07 34.9l2.31 4.2h-4.62zM390.19 35.02l2.31 4.2h-4.62zM392.31 35.14l2.31 4.2h-4.62zM394.43 35.26l2.31 4.2h-4.62zM396.55 35.38l2.31 4.2h-4.62zM398.67 35.5l2.31 4.2h-4.62zM400.8 46.46l2.31 4.2h-4.62zM402.92 46.79l2.31 4.2h-4.62zM405.04 47.12l2.31 4.2h-4.62zM407.16 47.45l2.31 4.2h-4.62zM409.28 47.78l2.31 4.2h-4.62zM411.4 48.12l2.31 4.2h-4.62zM413.52 48.45l2.31 4.2h-4.62zM415.64 48.78l2.31 4.2h-4.62zM417.77 49.11l2.31 4.2h-4.62zM419.89 49.44l2.31 4.2h-4.62zM422.01 57.25l2.31 4.2h-4.62zM424.13 57.36l2.31 4.2h-4.62zM426.25 57.48l2.31 4.2h-4.62zM428.37 57.6l2.31 4.2h-4.62zM430.49 57.72l2.31 4.2h-4.62zM432.61 57.84l2.31 4.2h-4.62zM434.73 57.96l2.31 4.2h-4.62zM436.86 58.08l2.31 4.2h-4.62zM438.98 71.36l2.31 4.2h-4.62zM441.1 71.81l2.31 4.2h-4.62zM443.22 72.26l2.31 4.2h-4.62zM445.34 72.71l2.31 4.2h-4.62zM447.46 73.17l2.31 4.2h-4.62zM449.58 73.62l2.31 4.2h-4.62zM451.7 74.07l2.31 4.2h-4.62zM453.82 74.53l2.31 4.2h-4.62zM455.95 74.98l2.31 4.2h-4.62zM458.07 75.43l2.31 4.2h-4.62zM460.19 75.88l2.31 4.2h-4.62zM462.31 76.34l2.31 4.2h-4.62zM464.43 76.74l2.31 4.2h-4.62zM466.55 77.15l2.31 4.2h-4.62zM468.67 77.55l2.31 4.2h-4.62zM470.79 77.96l2.31 4.2h-4.62zM472.91 78.36l2.31 4.2h-4.62zM475.04 78.77l2.31 4.2h-4.62zM477.16 79.18l2.31 4.2h-4.62zM479.28 79.58l2.31 4.2h-4.62zM481.4 79.99l2.31 4.2h-4.62zM483.52 84.3l2.31 4.2h-4.62zM485.64 84.3l2.31 4.2h-4.62zM487.76 84.3l2.31 4.2h-4.62zM489.88 84.3l2.31 4.2h-4.62zM492 84.3l2.31 4.2h-4.62zM494.13 92.6l2.31 4.2h-4.62zM496.25 92.6l2.31 4.2h-4.62zM498.37 92.6l2.31 4.2h-4.62zM500.49 92.6l2.31 4.2h-4.62zM502.61 92.6l2.31 4.2h-4.62zM504.73 92.6l2.31 4.2h-4.62zM506.85 92.6l2.31 4.2h-4.62zM508.97 99.91l2.31 4.2h-4.62zM511.1 99.91l2.31 4.2h-4.62zM513.22 99.91l2.31 4.2h-4.62zM515.34 99.91l2.31 4.2h-4.62zM517.46 99.91l2.31 4.2h-4.62zM519.58 99.91l2.31 4.2h-4.62zM521.7 99.91l2.31 4.2h-4.62zM523.82 104.89l2.31 4.2h-4.62zM525.94 104.89l2.31 4.2h-4.62zM528.06 124.48l2.31 4.2h-4.62zM530.19 129.46l2.31 4.2h-4.62zM532.31 133.11l2.31 4.2h-4.62zM534.43 133.11l2.31 4.2h-4.62zM536.55 133.11l2.31 4.2h-4.62zM538.67 133.11l2.31 4.2h-4.62zM540.79 133.11l2.31 4.2h-4.62zM542.91 133.11l2.31 4.2h-4.62zM545.03 133.11l2.31 4.2h-4.62zM547.15 133.11l2.31 4.2h-4.62zM549.28 133.11l2.31 4.2h-4.62zM551.4 133.11l2.31 4.2h-4.62zM553.52 133.11l2.31 4.2h-4.62zM555.64 139.75l2.31 4.2h-4.62zM557.76 150.37l2.31 4.2h-4.62zM559.88 150.37l2.31 4.2h-4.62zM562 150.37l2.31 4.2h-4.62zM564.12 150.37l2.31 4.2h-4.62zM566.24 150.37l2.31 4.2h-4.62zM568.37 150.37l2.31 4.2h-4.62zM570.49 150.37l2.31 4.2h-4.62zM572.61 150.37l2.31 4.2h-4.62zM574.73 158.67l2.31 4.2h-4.62zM576.85 158.67l2.31 4.2h-4.62zM578.97 158.67l2.31 4.2h-4.62zM581.09 158.67l2.31 4.2h-4.62zM583.21 158.67l2.31 4.2h-4.62zM585.33 158.67l2.31 4.2h-4.62zM587.46 158.67l2.31 4.2h-4.62zM589.58 158.67l2.31 4.2h-4.62zM591.7 158.67l2.31 4.2h-4.62zM593.82 167.64l2.31 4.2h-4.62zM595.94 167.64l2.31 4.2h-4.62zM598.06 167.64l2.31 4.2h-4.62zM600.18 167.64l2.31 4.2h-4.62zM602.3 167.64l2.31 4.2h-4.62zM604.43 167.64l2.31 4.2h-4.62zM606.55 167.64l2.31 4.2h-4.62zM608.67 167.64l2.31 4.2h-4.62zM610.79 167.64l2.31 4.2h-4.62zM612.91 167.64l2.31 4.2h-4.62zM615.03 173.61l2.31 4.2h-4.62zM617.15 173.61l2.31 4.2h-4.62zM619.27 173.61l2.31 4.2h-4.62zM621.39 173.61l2.31 4.2h-4.62zM623.52 181.91l2.31 4.2h-4.62zM625.64 181.91l2.31 4.2h-4.62zM627.76 181.91l2.31 4.2h-4.62zM629.88 181.91l2.31 4.2h-4.62zM632 181.91l2.31 4.2h-4.62z"/>
<polyline fill="none" stroke="#0000ff" stroke-width="0.9" points="371.1,32.46 373.22,40.76 375.34,40.76 377.46,40.76 379.58,40.76 381.71,40.76 383.83,40.76 385.95,40.76 388.07,40.76 390.19,40.76 392.31,40.76 394.43,40.76 396.55,40.76 398.67,55.04 400.8,55.04 402.92,55.04 405.04,55.04 407.16,67.32 409.28,68.03 411.4,68.74 413.52,69.45 415.64,70.17 417.77,70.88 419.89,71.59 422.01,72.3 424.13,78.94 426.25,88.9 428.37,95.54 430.49,95.54 432.61,95.54 434.73,95.54 436.86,95.54 438.98,95.54 441.1,103.84 443.22,104.01 445.34,104.17 447.46,104.34 449.58,104.5 451.7,104.67 453.82,104.84 455.95,105 458.07,105.17 460.19,105.33 462.31,105.5 464.43,110.81 466.55,111.25 468.67,111.7 470.79,112.14 472.91,122.43 475.04,122.43 477.16,122.43 479.28,122.43 481.4,122.43 483.52,132.39 485.64,132.39 487.76,132.39 489.88,132.39 492,138.37 494.13,138.37 496.25,138.37 498.37,138.37 500.49,138.37 502.61,147.33 504.73,147.33 506.85,147.33 508.97,147.33 511.1,147.33 513.22,147.33 515.34,147.33 517.46,147.33 519.58,147.33 521.7,147.33 523.82,147.33 525.94,147.33 528.06,153.97 530.19,154.16 532.31,154.35 534.43,154.54 536.55,154.73 538.67,154.92 540.79,155.11 542.91,155.3 545.03,156.13 547.15,156.96 549.28,163.6 551.4,163.6 553.52,163.6 555.64,163.6 557.76,163.6 559.88,171.9 562,172.02 564.12,172.14 566.24,172.26 568.37,172.37 570.49,172.49 572.61,172.61 574.73,172.73 576.85,172.85 578.97,172.97 581.09,173.09 583.21,173.2 585.33,173.32 587.46,173.44 589.58,173.56 591.7,184.52 593.82,184.52 595.94,184.52 598.06,192.82 600.18,192.82 602.3,192.82 604.43,192.82 606.55,192.82 608.67,192.82 610.79,192.82 612.91,192.82 615.03,192.82 617.15,192.82 619.27,192.82 621.39,192.82 623.52,192.82 625.64,196.8 627.76,196.8 629.88,196.8 632,204.44"/>
<path fill="none" stroke="#0000ff" stroke-width="0.9" d="M371.1 30.16V34.76M368.9 30.16h4.4M368.9 34.76h4.4M373.22 38.46V43.06M371.02 38.46h4.4M371.02 43.06h4.4M375.34 38.46V43.06M373.14 38.46h4.4M373.14 43.06h4.4M377.46 38.46V43.06M375.26 38.46h4.4M375.26 43.06h4.4M379.58 38.46V43.06M377.38 38.46h4.4M377.38 43.06h4.4M381.71 38.46V43.06M379.51 38.46h4.4M379.51 43.06h4.4M383.83 38.46V43.06M381.63 38.46h4.4M381.63 43.06h4.4M385.95 38.46V43.06M383.75 38.46h4.4M383.75 43.06h4.4M388.07 38.46V43.06M385.87 38.46h4.4M385.87 43.06h4.4M390.19 38.46V43.06M387.99 38.46h4.4M387.99 43.06h4.4M392.31 38.46V43.06M390.11 38.46h4.4M390.11 43.06h4.4M394.43 38.46V43.06M392.23 38.46h4.4M392.23 43.06h4.4M396.55 38.46V43.06M394.35 38.46h4.4M394.35 43.06h4.4M398.67 52.74V57.34M396.47 52.74h4.4M396.47 57.34h4.4M400.8 52.74V57.34M398.6 52.74h4.4M398.6 57.34h4.4M402.92 52.74V57.34M400.72 52.74h4.4M400.72 57.34h4.4M405.04 52.74V57.34M402.84 52.74h4.4M402.84 57.34h4.4M407.16 65.02V69.62M404.96 65.02h4.4M404.96 69.62h4.4M409.28 65.73V70.33M407.08 65.73h4.4M407.08 70.33h4.4M411.4 66.44V71.04M409.2 66.44h4.4M409.2 71.04h4.4M413.52 67.15V71.75M411.32 67.15h4.4M411.32 71.75h4.4M415.64 67.87V72.47M413.44 67.87h4.4M413.44 72.47h4.4M417.77 68.58V73.18M415.57 68.58h4.4M415.57 73.18h4.4M419.89 69.29V73.89M417.69 69.29h4.4M417.69 73.89h4.4M422.01 70V74.6M419.81 70h4.4M419.81 74.6h4.4M424.13 76.64V81.24M421.93 76.64h4.4M421.93 81.24h4.4M426.25 86.6V91.2M424.05 86.6h4.4M424.05 91.2h4.4M428.37 93.24V97.84M426.17 93.24h4.4M426.17 97.84h4.4M430.49 93.24V97.84M428.29 93.24h4.4M428.29 97.84h4.4M432.61 93.24V97.84M430.41 93.24h4.4M430.41 97.84h4.4M434.73 93.24V97.84M432.53 93.24h4.4M432.53 97.84h4.4M436.86 93.24V97.84M434.66 93.24h4.4M434.66 97.84h4.4M438.98 93.24V97.84M436.78 93.24h4.4M436.78 97.84h4.4M441.1 101.54V106.14M438.9 101.54h4.4M438.9 106.14h4.4M443.22 101.71V106.31M441.02 101.71h4.4M441.02 106.31h4.4M445.34 101.87V106.47M443.14 101.87h4.4M443.14 106.47h4.4M447.46 102.04V106.64M445.26 102.04h4.4M445.26 106.64h4.4M449.58 102.2V106.8M447.38 102.2h4.4M447.38 106.8h4.4M451.7 102.37V106.97M449.5 102.37h4.4M449.5 106.97h4.4M453.82 102.54V107.14M451.62 102.54h4.4M451.62 107.14h4.4M455.95 102.7V107.3M453.75 102.7h4.4M453.75 107.3h4.4M458.07 102.87V107.47M455.87 102.87h4.4M455.87 107.47h4.4M460.19 103.03V107.63M457.99 103.03h4.4M457.99 107.63h4.4M462.31 103.2V107.8M460.11 103.2h4.4M460.11 107.8h4.4M464.43 108.51V113.11M462.23 108.51h4.4M462.23 113.11h4.4M466.55 108.95V113.55M464.35 108.95h4.4M464.35 113.55h4.4M468.67 109.4V114M466.47 109.4h4.4M466.47 114h4.4M470.79 109.84V114.44M468.59 109.84h4.4M468.59 114.44h4.4M472.91 120.13V124.73M470.71 120.13h4.4M470.71 124.73h4.4M475.04 120.13V124.73M472.84 120.13h4.4M472.84 124.73h4.4M477.16 120.13V124.73M474.96 120.13h4.4M474.96 124.73h4.4M479.28 120.13V124.73M477.08 120.13h4.4M477.08 124.73h4.4M481.4 120.13V124.73M479.2 120.13h4.4M479.2 124.73h4.4M483.52 130.09V134.69M481.32 130.09h4.4M481.32 134.69h4.4M485.64 130.09V134.69M483.44 130.09h4.4M483.44 134.69h4.4M487.76 130.09V134.69M485.56 130.09h4.4M485.56 134.69h4.4M489.88 130.09V134.69M487.68 130.09h4.4M487.68 134.69h4.4M492 136.07V140.67M489.8 136.07h4.4M489.8 140.67h4.4M494.13 136.07V140.67M491.93 136.07h4.4M491.93 140.67h4.4M496.25 136.07V140.67M494.05 136.07h4.4M494.05 140.67h4.4M498.37 136.07V140.67M496.17 136.07h4.4M496.17 140.67h4.4M500.49 136.07V140.67M498.29 136.07h4.4M498.29 140.67h4.4M502.61 145.03V149.63M500.41 145.03h4.4M500.41 149.63h4.4M504.73 145.03V149.63M502.53 145.03h4.4M502.53 149.63h4.4M506.85 145.03V149.63M504.65 145.03h4.4M504.65 149.63h4.4M508.97 145.03V149.63M506.77 145.03h4.4M506.77 149.63h4.4M511.1 145.03V149.63M508.9 145.03h4.4M508.9 149.63h4.4M513.22 145.03V149.63M511.02 145.03h4.4M511.02 149.63h4.4M515.34 145.03V149.63M513.14 145.03h4.4M513.14 149.63h4.4M517.46 145.03V149.63M515.26 145.03h4.4M515.26 149.63h4.4M519.58 145.03V149.63M517.38 145.03h4.4M517.38 149.63h4.4M521.7 145.03V149.63M519.5 145.03h4.4M519.5 149.63h4.4M523.82 145.03V149.63M521.62 145.03h4.4M521.62 149.63h4.4M525.94 145.03V149.63M523.74 145.03h4.4M523.74 149.63h4.4M528.06 151.67V156.27M525.86 151.67h4.4M525.86 156.27h4.4M530.19 151.86V156.46M527.99 151.86h4.4M527.99 156.46h4.4M532.31 152.05V156.65M530.11 152.05h4.4M530.11 156.65h4.4M534.43 152.24V156.84M532.23 152.24h4.4M532.23 156.84h4.4M536.55 152.43V157.03M534.35 152.43h4.4M534.35 157.03h4.4M538.67 152.62V157.22M536.47 152.62h4.4M536.47 157.22h4.4M540.79 152.81V157.41M538.59 152.81h4.4M538.59 157.41h4.4M542.91 153V157.6M540.71 153h4.4M540.71 157.6h4.4M545.03 153.83V158.43M542.83 153.83h4.4M542.83 158.43h4.4M547.15 154.66V159.26M544.95 154.66h4.4M544.95 159.26h4.4M549.28 161.3V165.9M547.08 161.3h4.4M547.08 165.9h4.4M551.4 161.3V165.9M549.2 161.3h4.4M549.2 165.9h4.4M553.52 161.3V165.9M551.32 161.3h4.4M551.32 165.9h4.4M555.64 161.3V165.9M553.44 161.3h4.4M553.44 165.9h4.4M557.76 161.3V165.9M555.56 161.3h4.4M555.56 165.9h4.4M559.88 169.6V174.2M557.68 169.6h4.4M557.68 174.2h4.4M562 169.72V174.32M559.8 169.72h4.4M559.8 174.32h4.4M564.12 169.84V174.44M561.92 169.84h4.4M561.92 174.44h4.4M566.24 169.96V174.56M564.04 169.96h4.4M564.04 174.56h4.4M568.37 170.07V174.67M566.17 170.07h4.4M566.17 174.67h4.4M570.49 170.19V174.79M568.29 170.19h4.4M568.29 174.79h4.4M572.61 170.31V174.91M570.41 170.31h4.4M570.41 174.91h4.4M574.73 170.43V175.03M572.53 170.43h4.4M572.53 175.03h4.4M576.85 170.55V175.15M574.65 170.55h4.4M574.65 175.15h4.4M578.97 170.67V175.27M576.77 170.67h4.4M576.77 175.27h4.4M581.09 170.79V175.39M578.89 170.79h4.4M578.89 175.39h4.4M583.21 170.9V175.5M581.01 170.9h4.4M581.01 175.5h4.4M585.33 171.02V175.62M583.13 171.02h4.4M583.13 175.62h4.4M587.46 171.14V175.74M585.26 171.14h4.4M585.26 175.74h4.4M589.58 171.26V175.86M587.38 171.26h4.4M587.38 175.86h4.4M591.7 182.22V186.82M589.5 182.22h4.4M589.5 186.82h4.4M593.82 182.22V186.82M591.62 182.22h4.4M591.62 186.82h4.4M595.94 182.22V186.82M593.74 182.22h4.4M593.74 186.82h4.4M598.06 190.52V195.12M595.86 190.52h4.4M595.86 195.12h4.4M600.18 190.52V195.12M597.98 190.52h4.4M597.98 195.12h4.4M602.3 190.52V195.12M600.1 190.52h4.4M600.1 195.12h4.4M604.43 190.52V195.12M602.23 190.52h4.4M602.23 195.12h4.4M606.55 190.52V195.12M604.35 190.52h4.4M604.35 195.12h4.4M608.67 190.52V195.12M606.47 190.52h4.4M606.47 195.12h4.4M610.79 190.52V195.12M608.59 190.52h4.4M608.59 195.12h4.4M612.91 190.52V195.12M610.71 190.52h4.4M610.71 195.12h4.4M615.03 190.52V195.12M612.83 190.52h4.4M612.83 195.12h4.4M617.15 190.52V195.12M614.95 190.52h4.4M614.95 195.12h4.4M619.27 190.52V195.12M617.07 190.52h4.4M617.07 195.12h4.4M621.39 190.52V195.12M619.19 190.52h4.4M619.19 195.12h4.4M623.52 190.52V195.12M621.32 190.52h4.4M621.32 195.12h4.4M625.64 194.5V199.1M623.44 194.5h4.4M623.44 199.1h4.4M627.76 194.5V199.1M625.56 194.5h4.4M625.56 199.1h4.4M629.88 194.5V199.1M627.68 194.5h4.4M627.68 199.1h4.4M632 202.14V206.74M629.8 202.14h4.4M629.8 206.74h4.4"/>
<path fill="none" stroke="#0000ff" stroke-width="0.9" d="M371.1 29.86l2.31 4.2h-4.62zM373.22 38.16l2.31 4.2h-4.62zM375.34 38.16l2.31 4.2h-4.62zM377.46 38.16l2.31 4.2h-4.62zM379.58 38.16l2.31 4.2h-4.62zM381.71 38.16l2.31 4.2h-4.62zM383.83 38.16l2.31 4.2h-4.62zM385.95 38.16l2.31 4.2h-4.62zM388.07 38.16l2.31 4.2h-4.62zM390.19 38.16l2.31 4.2h-4.62zM392.31 38.16l2.31 4.2h-4.62zM394.43 38.16l2.31 4.2h-4.62zM396.55 38.16l2.31 4.2h-4.62zM398.67 52.43l2.31 4.2h-4.62zM400.8 52.43l2.31 4.2h-4.62zM402.92 52.43l2.31 4.2h-4.62zM405.04 52.43l2.31 4.2h-4.62zM407.16 64.72l2.31 4.2h-4.62zM409.28 65.43l2.31 4.2h-4.62zM411.4 66.14l2.31 4.2h-4.62zM413.52 66.85l2.31 4.2h-4.62zM415.64 67.56l2.31 4.2h-4.62zM417.77 68.27l2.31 4.2h-4.62zM419.89 68.98l2.31 4.2h-4.62zM422.01 69.7l2.31 4.2h-4.62zM424.13 76.34l2.31 4.2h-4.62zM426.25 86.3l2.31 4.2h-4.62zM428.37 92.94l2.31 4.2h-4.62zM430.49 92.94l2.31 4.2h-4.62zM432.61 92.94l2.31 4.2h-4.62zM434.73 92.94l2.31 4.2h-4.62zM436.86 92.94l2.31 4.2h-4.62zM438.98 92.94l2.31 4.2h-4.62zM441.1 101.24l2.31 4.2h-4.62zM443.22 101.4l2.31 4.2h-4.62zM445.34 101.57l2.31 4.2h-4.62zM447.46 101.73l2.31 4.2h-4.62zM449.58 101.9l2.31 4.2h-4.62zM451.7 102.07l2.31 4.2h-4.62zM453.82 102.23l2.31 4.2h-4.62zM455.95 102.4l2.31 4.2h-4.62zM458.07 102.56l2.31 4.2h-4.62zM460.19 102.73l2.31 4.2h-4.62zM462.31 102.9l2.31 4.2h-4.62zM464.43 108.21l2.31 4.2h-4.62zM466.55 108.65l2.31 4.2h-4.62zM468.67 109.09l2.31 4.2h-4.62zM470.79 109.54l2.31 4.2h-4.62zM472.91 119.83l2.31 4.2h-4.62zM475.04 119.83l2.31 4.2h-4.62zM477.16 119.83l2.31 4.2h-4.62zM479.28 119.83l2.31 4.2h-4.62zM481.4 119.83l2.31 4.2h-4.62zM483.52 129.79l2.31 4.2h-4.62zM485.64 129.79l2.31 4.2h-4.62zM487.76 129.79l2.31 4.2h-4.62zM489.88 129.79l2.31 4.2h-4.62zM492 135.76l2.31 4.2h-4.62zM494.13 135.76l2.31 4.2h-4.62zM496.25 135.76l2.31 4.2h-4.62zM498.37 135.76l2.31 4.2h-4.62zM500.49 135.76l2.31 4.2h-4.62zM502.61 144.73l2.31 4.2h-4.62zM504.73 144.73l2.31 4.2h-4.62zM506.85 144.73l2.31 4.2h-4.62zM508.97 144.73l2.31 4.2h-4.62zM511.1 144.73l2.31 4.2h-4.62zM513.22 144.73l2.31 4.2h-4.62zM515.34 144.73l2.31 4.2h-4.62zM517.46 144.73l2.31 4.2h-4.62zM519.58 144.73l2.31 4.2h-4.62zM521.7 144.73l2.31 4.2h-4.62zM523.82 144.73l2.31 4.2h-4.62zM525.94 144.73l2.31 4.2h-4.62zM528.06 151.37l2.31 4.2h-4.62zM530.19 151.56l2.31 4.2h-4.62zM532.31 151.75l2.31 4.2h-4.62zM534.43 151.94l2.31 4.2h-4.62zM536.55 152.13l2.31 4.2h-4.62zM538.67 152.32l2.31 4.2h-4.62zM540.79 152.51l2.31 4.2h-4.62zM542.91 152.7l2.31 4.2h-4.62zM545.03 153.53l2.31 4.2h-4.62zM547.15 154.36l2.31 4.2h-4.62zM549.28 161l2.31 4.2h-4.62zM551.4 161l2.31 4.2h-4.62zM553.52 161l2.31 4.2h-4.62zM555.64 161l2.31 4.2h-4.62zM557.76 161l2.31 4.2h-4.62zM559.88 169.3l2.31 4.2h-4.62zM562 169.41l2.31 4.2h-4.62zM564.12 169.53l2.31 4.2h-4.62zM566.24 169.65l2.31 4.2h-4.62zM568.37 169.77l2.31 4.2h-4.62zM570.49 169.89l2.31 4.2h-4.62zM572.61 170.01l2.31 4.2h-4.62zM574.73 170.13l2.31 4.2h-4.62zM576.85 170.24l2.31 4.2h-4.62zM578.97 170.36l2.31 4.2h-4.62zM581.09 170.48l2.31 4.2h-4.62zM583.21 170.6l2.31 4.2h-4.62zM585.33 170.72l2.31 4.2h-4.62zM587.46 170.84l2.31 4.2h-4.62zM589.58 170.96l2.31 4.2h-4.62zM591.7 181.91l2.31 4.2h-4.62zM593.82 181.91l2.31 4.2h-4.62zM595.94 181.91l2.31 4.2h-4.62zM598.06 190.21l2.31 4.2h-4.62zM600.18 190.21l2.31 4.2h-4.62zM602.3 190.21l2.31 4.2h-4.62zM604.43 190.21l2.31 4.2h-4.62zM606.55 190.21l2.31 4.2h-4.62zM608.67 190.21l2.31 4.2h-4.62zM610.79 190.21l2.31 4.2h-4.62zM612.91 190.21l2.31 4.2h-4.62zM615.03 190.21l2.31 4.2h-4.62zM617.15 190.21l2.31 4.2h-4.62zM619.27 190.21l2.31 4.2h-4.62zM621.39 190.21l2.31 4.2h-4.62zM623.52 190.21l2.31 4.2h-4.62zM625.64 194.2l2.31 4.2h-4.62zM627.76 194.2l2.31 4.2h-4.62zM629.88 194.2l2.31 4.2h-4.62zM632 201.83l2.31 4.2h-4.62z"/>
<polyline fill="none" stroke="#00ff00" stroke-width="0.9" points="371.1,32.46 373.22,39.1 375.34,39.1 377.46,39.1 379.58,39.1 381.71,39.1 383.83,45.74 385.95,45.74 388.07,45.74 390.19,45.74 392.31,45.74 394.43,45.74 396.55,45.74 398.67,59.85 400.8,59.85 402.92,59.85 405.04,59.85 407.16,59.85 409.28,59.85 411.4,64.83 413.52,64.83 415.64,64.83 417.77,64.83 419.89,64.83 422.01,64.83 424.13,64.83 426.25,64.83 428.37,64.83 430.49,64.83 432.61,64.83 434.73,64.83 436.86,64.83 438.98,64.83 441.1,64.83 443.22,64.83 445.34,64.83 447.46,64.83 449.58,64.83 451.7,64.83 453.82,70.31 455.95,70.31 458.07,70.31 460.19,70.31 462.31,70.31 464.43,70.31 466.55,70.31 468.67,70.31 470.79,70.31 472.91,70.31 475.04,74.29 477.16,74.29 479.28,74.29 481.4,74.29 483.52,74.29 485.64,74.29 487.76,74.29 489.88,85.25 492,85.25 494.13,85.25 496.25,85.25 498.37,85.25 500.49,85.25 502.61,85.25 504.73,85.25 506.85,85.25 508.97,85.25 511.1,85.25 513.22,85.25 515.34,85.25 517.46,91.89 519.58,93.71 521.7,95.54 523.82,97.37 525.94,99.19 528.06,108.49 530.19,108.49 532.31,108.49 534.43,108.49 536.55,113.47 538.67,113.47 540.79,113.47 542.91,113.47 545.03,113.47 547.15,113.47 549.28,123.1 551.4,128.08 553.52,128.08 555.64,128.08 557.76,128.08 559.88,128.08 562,128.08 564.12,128.08 566.24,128.08 568.37,128.08 570.49,128.08 572.61,133.06 574.73,133.06 576.85,133.06 578.97,133.06 581.09,133.06 583.21,133.06 585.33,133.06 587.46,133.06 589.58,133.06 591.7,133.06 593.82,133.06 595.94,133.06 598.06,133.06 600.18,139.7 602.3,139.7 604.43,139.7 606.55,139.7 608.67,147 610.79,147 612.91,147 615.03,147 617.15,147 619.27,147 621.39,147 623.52,147 625.64,147 627.76,147 629.88,147 632,147"/>
<path fill="none" stroke="#00ff00" stroke-width="0.9" d="M371.1 30.16V34.76M368.9 30.16h4.4M368.9 34.76h4.4M373.22 36.8V41.4M371.02 36.8h4.4M371.02 41.4h4.4M375.34 36.8V41.4M373.14 36.8h4.4M373.14 41.4h4.4M377.46 36.8V41.4M375.26 36.8h4.4M375.26 41.4h4.4M379.58 36.8V41.4M377.38 36.8h4.4M377.38 41.4h4.4M381.71 36.8V41.4M379.51 36.8h4.4M379.51 41.4h4.4M383.83 43.44V48.04M381.63 43.44h4.4M381.63 48.04h4.4M385.95 43.44V48.04M383.75 43.44h4.4M383.75 48.04h4.4M388.07 43.44V48.04M385.87 43.44h4.4M385.87 48.04h4.4M390.19 43.44V48.04M387.99 43.44h4.4M387.99 48.04h4.4M392.31 43.44V48.04M390.11 43.44h4.4M390.11 48.04h4.4M394.43 43.44V48.04M392.23 43.44h4.4M392.23 48.04h4.4M396.55 43.44V48.04M394.35 43.44h4.4M394.35 48.04h4.4M398.67 57.55V62.15M396.47 57.55h4.4M396.47 62.15h4.4M400.8 57.55V62.15M398.6 57.55h4.4M398.6 62.15h4.4M402.92 57.55V62.15M400.72 57.55h4.4M400.72 62.15h4.4M405.04 57.55V62.15M402.84 57.55h4.4M402.84 62.15h4.4M407.16 57.55V62.15M404.96 57.55h4.4M404.96 62.15h4.4M409.28 57.55V62.15M407.08 57.55h4.4M407.08 62.15h4.4M411.4 62.53V67.13M409.2 62.53h4.4M409.2 67.13h4.4M413.52 62.53V67.13M411.32 62.53h4.4M411.32 67.13h4.4M415.64 62.53V67.13M413.44 62.53h4.4M413.44 67.13h4.4M417.77 62.53V67.13M415.57 62.53h4.4M415.57 67.13h4.4M419.89 62.53V67.13M417.69 62.53h4.4M417.69 67.13h4.4M422.01 62.53V67.13M419.81 62.53h4.4M419.81 67.13h4.4M424.13 62.53V67.13M421.93 62.53h4.4M421.93 67.13h4.4M426.25 62.53V67.13M424.05 62.53h4.4M424.05 67.13h4.4M428.37 62.53V67.13M426.17 62.53h4.4M426.17 67.13h4.4M430.49 62.53V67.13M428.29 62.53h4.4M428.29 67.13h4.4M432.61 62.53V67.13M430.41 62.53h4.4M430.41 67.13h4.4M434.73 62.53V67.13M432.53 62.53h4.4M432.53 67.13h4.4M436.86 62.53V67.13M434.66 62.53h4.4M434.66 67.13h4.4M438.98 62.53V67.13M436.78 62.53h4.4M436.78 67.13h4.4M441.1 62.53V67.13M438.9 62.53h4.4M438.9 67.13h4.4M443.22 62.53V67.13M441.02 62.53h4.4M441.02 67.13h4.4M445.34 62.53V67.13M443.14 62.53h4.4M443.14 67.13h4.4M447.46 62.53V67.13M445.26 62.53h4.4M445.26 67.13h4.4M449.58 62.53V67.13M447.38 62.53h4.4M447.38 67.13h4.4M451.7 62.53V67.13M449.5 62.53h4.4M449.5 67.13h4.4M453.82 68.01V72.61M451.62 68.01h4.4M451.62 72.61h4.4M455.95 68.01V72.61M453.75 68.01h4.4M453.75 72.61h4.4M458.07 68.01V72.61M455.87 68.01h4.4M455.87 72.61h4.4M460.19 68.01V72.61M457.99 68.01h4.4M457.99 72.61h4.4M462.31 68.01V72.61M460.11 68.01h4.4M460.11 72.61h4.4M464.43 68.01V72.61M462.23 68.01h4.4M462.23 72.61h4.4M466.55 68.01V72.61M464.35 68.01h4.4M464.35 72.61h4.4M468.67 68.01V72.61M466.47 68.01h4.4M466.47 72.61h4.4M470.79 68.01V72.61M468.59 68.01h4.4M468.59 72.61h4.4M472.91 68.01V72.61M470.71 68.01h4.4M470.71 72.61h4.4M475.04 71.99V76.59M472.84 71.99h4.4M472.84 76.59h4.4M477.16 71.99V76.59M474.96 71.99h4.4M474.96 76.59h4.4M479.28 71.99V76.59M477.08 71.99h4.4M477.08 76.59h4.4M481.4 71.99V76.59M479.2 71.99h4.4M479.2 76.59h4.4M483.52 71.99V76.59M481.32 71.99h4.4M481.32 76.59h4.4M485.64 71.99V76.59M483.44 71.99h4.4M483.44 76.59h4.4M487.76 71.99V76.59M485.56 71.99h4.4M485.56 76.59h4.4M489.88 82.95V87.55M487.68 82.95h4.4M487.68 87.55h4.4M492 82.95V87.55M489.8 82.95h4.4M489.8 87.55h4.4M494.13 82.95V87.55M491.93 82.95h4.4M491.93 87.55h4.4M496.25 82.95V87.55M494.05 82.95h4.4M494.05 87.55h4.4M498.37 82.95V87.55M496.17 82.95h4.4M496.17 87.55h4.4M500.49 82.95V87.55M498.29 82.95h4.4M498.29 87.55h4.4M502.61 82.95V87.55M500.41 82.95h4.4M500.41 87.55h4.4M504.73 82.95V87.55M502.53 82.95h4.4M502.53 87.55h4.4M506.85 82.95V87.55M504.65 82.95h4.4M504.65 87.55h4.4M508.97 82.95V87.55M506.77 82.95h4.4M506.77 87.55h4.4M511.1 82.95V87.55M508.9 82.95h4.4M508.9 87.55h4.4M513.22 82.95V87.55M511.02 82.95h4.4M511.02 87.55h4.4M515.34 82.95V87.55M513.14 82.95h4.4M513.14 87.55h4.4M517.46 89.59V94.19M515.26 89.59h4.4M515.26 94.19h4.4M519.58 91.41V96.01M517.38 91.41h4.4M517.38 96.01h4.4M521.7 93.24V97.84M519.5 93.24h4.4M519.5 97.84h4.4M523.82 95.07V99.67M521.62 95.07h4.4M521.62 99.67h4.4M525.94 96.89V101.49M523.74 96.89h4.4M523.74 101.49h4.4M528.06 106.19V110.79M525.86 106.19h4.4M525.86 110.79h4.4M530.19 106.19V110.79M527.99 106.19h4.4M527.99 110.79h4.4M532.31 106.19V110.79M530.11 106.19h4.4M530.11 110.79h4.4M534.43 106.19V110.79M532.23 106.19h4.4M532.23 110.79h4.4M536.55 111.17V115.77M534.35 111.17h4.4M534.35 115.77h4.4M538.67 111.17V115.77M536.47 111.17h4.4M536.47 115.77h4.4M540.79 111.17V115.77M538.59 111.17h4.4M538.59 115.77h4.4M542.91 111.17V115.77M540.71 111.17h4.4M540.71 115.77h4.4M545.03 111.17V115.77M542.83 111.17h4.4M542.83 115.77h4.4M547.15 111.17V115.77M544.95 111.17h4.4M544.95 115.77h4.4M549.28 120.8V125.4M547.08 120.8h4.4M547.08 125.4h4.4M551.4 125.78V130.38M549.2 125.78h4.4M549.2 130.38h4.4M553.52 125.78V130.38M551.32 125.78h4.4M551.32 130.38h4.4M555.64 125.78V130.38M553.44 125.78h4.4M553.44 130.38h4.4M557.76 125.78V130.38M555.56 125.78h4.4M555.56 130.38h4.4M559.88 125.78V130.38M557.68 125.78h4.4M557.68 130.38h4.4M562 125.78V130.38M559.8 125.78h4.4M559.8 130.38h4.4M564.12 125.78V130.38M561.92 125.78h4.4M561.92 130.38h4.4M566.24 125.78V130.38M564.04 125.78h4.4M564.04 130.38h4.4M568.37 125.78V130.38M566.17 125.78h4.4M566.17 130.38h4.4M570.49 125.78V130.38M568.29 125.78h4.4M568.29 130.38h4.4M572.61 130.76V135.36M570.41 130.76h4.4M570.41 135.36h4.4M574.73 130.76V135.36M572.53 130.76h4.4M572.53 135.36h4.4M576.85 130.76V135.36M574.65 130.76h4.4M574.65 135.36h4.4M578.97 130.76V135.36M576.77 130.76h4.4M576.77 135.36h4.4M581.09 130.76V135.36M578.89 130.76h4.4M578.89 135.36h4.4M583.21 130.76V135.36M581.01 130.76h4.4M581.01 135.36h4.4M585.33 130.76V135.36M583.13 130.76h4.4M583.13 135.36h4.4M587.46 130.76V135.36M585.26 130.76h4.4M585.26 135.36h4.4M589.58 130.76V135.36M587.38 130.76h4.4M587.38 135.36h4.4M591.7 130.76V135.36M589.5 130.76h4.4M589.5 135.36h4.4M593.82 130.76V135.36M591.62 130.76h4.4M591.62 135.36h4.4M595.94 130.76V135.36M593.74 130.76h4.4M593.74 135.36h4.4M598.06 130.76V135.36M595.86 130.76h4.4M595.86 135.36h4.4M600.18 137.4V142M597.98 137.4h4.4M597.98 142h4.4M602.3 137.4V142M600.1 137.4h4.4M600.1 142h4.4M604.43 137.4V142M602.23 137.4h4.4M602.23 142h4.4M606.55 137.4V142M604.35 137.4h4.4M604.35 142h4.4M608.67 144.7V149.3M606.47 144.7h4.4M606.47 149.3h4.4M610.79 144.7V149.3M608.59 144.7h4.4M608.59 149.3h4.4M612.91 144.7V149.3M610.71 144.7h4.4M610.71 149.3h4.4M615.03 144.7V149.3M612.83 144.7h4.4M612.83 149.3h4.4M617.15 144.7V149.3M614.95 144.7h4.4M614.95 149.3h4.4M619.27 144.7V149.3M617.07 144.7h4.4M617.07 149.3h4.4M621.39 144.7V149.3M619.19 144.7h4.4M619.19 149.3h4.4M623.52 144.7V149.3M621.32 144.7h4.4M621.32 149.3h4.4M625.64 144.7V149.3M623.44 144.7h4.4M623.44 149.3h4.4M627.76 144.7V149.3M625.56 144.7h4.4M625.56 149.3h4.4M629.88 144.7V149.3M627.68 144.7h4.4M627.68 149.3h4.4M632 144.7V149.3M629.8 144.7h4.4M629.8 149.3h4.4"/>
<path fill="none" stroke="#00ff00" stroke-width="0.9" d="M369.2 30.56h3.8v3.8h-3.8zM371.32 37.2h3.8v3.8h-3.8zM373.44 37.2h3.8v3.8h-3.8zM375.56 37.2h3.8v3.8h-3.8zM377.68 37.2h3.8v3.8h-3.8zM379.81 37.2h3.8v3.8h-3.8zM381.93 43.84h3.8v3.8h-3.8zM384.05 43.84h3.8v3.8h-3.8zM386.17 43.84h3.8v3.8h-3.8zM388.29 43.84h3.8v3.8h-3.8zM390.41 43.84h3.8v3.8h-3.8zM392.53 43.84h3.8v3.8h-3.8zM394.65 43.84h3.8v3.8h-3.8zM396.77 57.95h3.8v3.8h-3.8zM398.9 57.95h3.8v3.8h-3.8zM401.02 57.95h3.8v3.8h-3.8zM403.14 57.95h3.8v3.8h-3.8zM405.26 57.95h3.8v3.8h-3.8zM407.38 57.95h3.8v3.8h-3.8zM409.5 62.93h3.8v3.8h-3.8zM411.62 62.93h3.8v3.8h-3.8zM413.74 62.93h3.8v3.8h-3.8zM415.87 62.93h3.8v3.8h-3.8zM417.99 62.93h3.8v3.8h-3.8zM420.11 62.93h3.8v3.8h-3.8zM422.23 62.93h3.8v3.8h-3.8zM424.35 62.93h3.8v3.8h-3.8zM426.47 62.93h3.8v3.8h-3.8zM428.59 62.93h3.8v3.8h-3.8zM430.71 62.93h3.8v3.8h-3.8zM432.83 62.93h3.8v3.8h-3.8zM434.96 62.93h3.8v3.8h-3.8zM437.08 62.93h3.8v3.8h-3.8zM439.2 62.93h3.8v3.8h-3.8zM441.32 62.93h3.8v3.8h-3.8zM443.44 62.93h3.8v3.8h-3.8zM445.56 62.93h3.8v3.8h-3.8zM447.68 62.93h3.8v3.8h-3.8zM449.8 62.93h3.8v3.8h-3.8zM451.92 68.41h3.8v3.8h-3.8zM454.05 68.41h3.8v3.8h-3.8zM456.17 68.41h3.8v3.8h-3.8zM458.29 68.41h3.8v3.8h-3.8zM460.41 68.41h3.8v3.8h-3.8zM462.53 68.41h3.8v3.8h-3.8zM464.65 68.41h3.8v3.8h-3.8zM466.77 68.41h3.8v3.8h-3.8zM468.89 68.41h3.8v3.8h-3.8zM471.01 68.41h3.8v3.8h-3.8zM473.14 72.39h3.8v3.8h-3.8zM475.26 72.39h3.8v3.8h-3.8zM477.38 72.39h3.8v3.8h-3.8zM479.5 72.39h3.8v3.8h-3.8zM481.62 72.39h3.8v3.8h-3.8zM483.74 72.39h3.8v3.8h-3.8zM485.86 72.39h3.8v3.8h-3.8zM487.98 83.35h3.8v3.8h-3.8zM490.1 83.35h3.8v3.8h-3.8zM492.23 83.35h3.8v3.8h-3.8zM494.35 83.35h3.8v3.8h-3.8zM496.47 83.35h3.8v3.8h-3.8zM498.59 83.35h3.8v3.8h-3.8zM500.71 83.35h3.8v3.8h-3.8zM502.83 83.35h3.8v3.8h-3.8zM504.95 83.35h3.8v3.8h-3.8zM507.07 83.35h3.8v3.8h-3.8zM509.2 83.35h3.8v3.8h-3.8zM511.32 83.35h3.8v3.8h-3.8zM513.44 83.35h3.8v3.8h-3.8zM515.56 89.99h3.8v3.8h-3.8zM517.68 91.81h3.8v3.8h-3.8zM519.8 93.64h3.8v3.8h-3.8zM521.92 95.47h3.8v3.8h-3.8zM524.04 97.29h3.8v3.8h-3.8zM526.16 106.59h3.8v3.8h-3.8zM528.29 106.59h3.8v3.8h-3.8zM530.41 106.59h3.8v3.8h-3.8zM532.53 106.59h3.8v3.8h-3.8zM534.65 111.57h3.8v3.8h-3.8zM536.77 111.57h3.8v3.8h-3.8zM538.89 111.57h3.8v3.8h-3.8zM541.01 111.57h3.8v3.8h-3.8zM543.13 111.57h3.8v3.8h-3.8zM545.25 111.57h3.8v3.8h-3.8zM547.38 121.2h3.8v3.8h-3.8zM549.5 126.18h3.8v3.8h-3.8zM551.62 126.18h3.8v3.8h-3.8zM553.74 126.18h3.8v3.8h-3.8zM555.86 126.18h3.8v3.8h-3.8zM557.98 126.18h3.8v3.8h-3.8zM560.1 126.18h3.8v3.8h-3.8zM562.22 126.18h3.8v3.8h-3.8zM564.34 126.18h3.8v3.8h-3.8zM566.47 126.18h3.8v3.8h-3.8zM568.59 126.18h3.8v3.8h-3.8zM570.71 131.16h3.8v3.8h-3.8zM572.83 131.16h3.8v3.8h-3.8zM574.95 131.16h3.8v3.8h-3.8zM577.07 131.16h3.8v3.8h-3.8zM579.19 131.16h3.8v3.8h-3.8zM581.31 131.16h3.8v3.8h-3.8zM583.43 131.16h3.8v3.8h-3.8zM585.56 131.16h3.8v3.8h-3.8zM587.68 131.16h3.8v3.8h-3.8zM589.8 131.16h3.8v3.8h-3.8zM591.92 131.16h3.8v3.8h-3.8zM594.04 131.16h3.8v3.8h-3.8zM596.16 131.16h3.8v3.8h-3.8zM598.28 137.8h3.8v3.8h-3.8zM600.4 137.8h3.8v3.8h-3.8zM602.53 137.8h3.8v3.8h-3.8zM604.65 137.8h3.8v3.8h-3.8zM606.77 145.1h3.8v3.8h-3.8zM608.89 145.1h3.8v3.8h-3.8zM611.01 145.1h3.8v3.8h-3.8zM613.13 145.1h3.8v3.8h-3.8zM615.25 145.1h3.8v3.8h-3.8zM617.37 145.1h3.8v3.8h-3.8zM619.49 145.1h3.8v3.8h-3.8zM621.62 145.1h3.8v3.8h-3.8zM623.74 145.1h3.8v3.8h-3.8zM625.86 145.1h3.8v3.8h-3.8zM627.98 145.1h3.8v3.8h-3.8zM630.1 145.1h3.8v3.8h-3.8z"/>
<path fill="none" stroke="#555" stroke-width="1" d="M371.1 14.2V213.4H632M377.46 213.4v-2.6M419.89 213.4v-2.6M462.31 213.4v-2.6M504.73 213.4v-2.6M547.15 213.4v-2.6M589.58 213.4v-2.6M632 213.4v-2.6M371.1 213.4h2.6M371.1 180.2h2.6M371.1 147h2.6M371.1 113.8h2.6M371.1 80.6h2.6M371.1 47.4h2.6M371.1 14.2h2.6"/>
<text x="377.46" y="230" font-size="10.5" text-anchor="middle" font-weight="normal" font-family='"Liberation Sans", sans-serif' fill="#262626" textLength="12.84" lengthAdjust="spacingAndGlyphs">40</text>
<text x="419.89" y="230" font-size="10.5" text-anchor="middle" font-weight="normal" font-family='"Liberation Sans", sans-serif' fill="#262626" textLength="12.84" lengthAdjust="spacingAndGlyphs">60</text>
<text x="462.31" y="230" font-size="10.5" text-anchor="middle" font-weight="normal" font-family='"Liberation Sans", sans-serif' fill="#262626" textLength="12.84" lengthAdjust="spacingAndGlyphs">80</text>
<text x="504.73" y="230" font-size="10.5" text-anchor="middle" font-weight="normal" font-family='"Liberation Sans", sans-serif' fill="#262626" textLength="19.27" lengthAdjust="spacingAndGlyphs">100</text>
<text x="547.15" y="230" font-size="10.5" text-anchor="middle" font-weight="normal" font-family='"Liberation Sans", sans-serif' fill="#262626" textLength="19.27" lengthAdjust="spacingAndGlyphs">120</text>
<text x="589.58" y="230" font-size="10.5" text-anchor="middle" font-weight="normal" font-family='"Liberation Sans", sans-serif' fill="#262626" textLength="19.27" lengthAdjust="spacingAndGlyphs">140</text>
<text x="632" y="230" font-size="10.5" text-anchor="middle" font-weight="normal" font-family='"Liberation Sans", sans-serif' fill="#262626" textLength="19.27" lengthAdjust="spacingAndGlyphs">160</text>
<text x="366.8" y="217.8" font-size="10.5" text-anchor="end" font-weight="normal" font-family='"Liberation Sans", sans-serif' fill="#262626" textLength="6.42" lengthAdjust="spacingAndGlyphs">2</text>
<text x="366.8" y="184.6" font-size="10.5" text-anchor="end" font-weight="normal" font-family='"Liberation Sans", sans-serif' fill="#262626" textLength="16.05" lengthAdjust="spacingAndGlyphs">2.1</text>
<text x="366.8" y="151.4" font-size="10.5" text-anchor="end" font-weight="normal" font-family='"Liberation Sans", sans-serif' fill="#262626" textLength="16.05" lengthAdjust="spacingAndGlyphs">2.2</text>
<text x="366.8" y="118.2" font-size="10.5" text-anchor="end" font-weight="normal" font-family='"Liberation Sans", sans-serif' fill="#262626" textLength="16.05" lengthAdjust="spacingAndGlyphs">2.3</text>
<text x="366.8" y="85" font-size="10.5" text-anchor="end" font-weight="normal" font-family='"Liberation Sans", sans-serif' fill="#262626" textLength="16.05" lengthAdjust="spacingAndGlyphs">2.4</text>
<text x="366.8" y="51.8" font-size="10.5" text-anchor="end" font-weight="normal" font-family='"Liberation Sans", sans-serif' fill="#262626" textLength="16.05" lengthAdjust="spacingAndGlyphs">2.5</text>
<text x="366.8" y="18.6" font-size="10.5" text-anchor="end" font-weight="normal" font-family='"Liberation Sans", sans-serif' fill="#262626" textLength="16.05" lengthAdjust="spacingAndGlyphs">2.6</text>
<text x="501.75" y="9.1" font-size="11.7" text-anchor="middle" font-weight="bold" font-family='"Liberation Sans", sans-serif' fill="#000" textLength="121.5" lengthAdjust="spacingAndGlyphs">Ackley Function - 5D</text>
<text x="501.25" y="245.1" font-size="12.2" text-anchor="middle" font-weight="normal" font-family='"Liberation Sans", sans-serif' fill="#262626" textLength="110.5" lengthAdjust="spacingAndGlyphs">Number of Iterations</text>
<text transform="translate(345.7 113.8) rotate(-90)" font-size="12.3" text-anchor="middle" font-family='"Liberation Sans", sans-serif' fill="#262626" textLength="78.4" lengthAdjust="spacingAndGlyphs">Simple Regret</text>
<text x="499.2" y="278.6" font-size="25" text-anchor="middle" font-weight="normal" font-family='"Liberation Serif", serif' fill="#000" textLength="149.7" lengthAdjust="spacingAndGlyphs">(b) 5D-Ackley</text>
<rect x="518.25" y="20.3" width="107.75" height="41.7" fill="#fff" stroke="#6a6a6a" stroke-width="1"/>
<path fill="none" stroke="#ff00ff" stroke-width="0.9" d="M520.85 27.8h24M533.05 22.4v10.8M530.85 22.4h4.4M530.85 33.2h4.4M533.05 24.9l2.5 4.6h-5z"/>
<text x="547.25" y="32.2" font-size="10" text-anchor="start" font-weight="normal" font-family='"Liberation Sans", sans-serif' fill="#000" >Full GP</text>
<path fill="none" stroke="#0000ff" stroke-width="0.9" d="M520.85 41.15h24M533.05 35.75v10.8M530.85 35.75h4.4M530.85 46.55h4.4M533.05 38.25l2.5 4.6h-5z"/>
<text x="547.25" y="45.55" font-size="10" text-anchor="start" font-weight="normal" font-family='"Liberation Sans", sans-serif' fill="#000" >Enhanced SSGP</text>
<path fill="none" stroke="#00ff00" stroke-width="0.9" d="M520.85 54.5h24M533.05 49.1v10.8M530.85 49.1h4.4M530.85 59.9h4.4M530.65 54.5a2.4 2.4 0 1 0 4.8 0a2.4 2.4 0 1 0 -4.8 0"/>
<text x="547.25" y="58.9" font-size="10" text-anchor="start" font-weight="normal" font-family='"Liberation Sans", sans-serif' fill="#000" >SSGP</text>
<polyline fill="none" stroke="#ff00ff" stroke-width="0.9" points="25.75,356.08 30.1,358.47 34.45,363.66 38.8,367.25 43.15,370.44 47.5,370.44 51.84,372.83 56.19,372.03 60.54,372.83 64.89,378.41 69.24,382 73.59,383.19 77.94,385.19 82.29,387.18 86.64,394.36 90.99,405.92 95.34,410.7 99.69,411.3 104.03,411.9 108.38,415.89 112.73,420.67 117.08,428.25 121.43,437.02 125.78,444.99 130.13,445.59 134.48,446.19 138.83,447.78 143.18,456.95 147.53,467.72 151.88,471.71 156.22,472.5 160.57,472.9 164.92,473.3 169.27,473.7 173.62,474.1 177.97,474.5 182.32,474.9 186.67,478.08 191.02,478.28 195.37,478.48 199.72,478.68 204.07,478.88 208.41,479.08 212.76,479.28 217.11,486.06 221.46,486.86 225.81,490.05 230.16,496.82 234.51,497.89 238.86,498.95 243.21,500.01 247.56,505.99 251.91,505.99 256.26,505.99 260.61,505.99 264.95,505.99 269.3,505.99 273.65,505.99 278,512.77 282.35,512.97 286.7,513.17"/>
<path fill="none" stroke="#ff00ff" stroke-width="0.9" d="M25.75 347.58V364.58M23.15 347.58h5.2M23.15 364.58h5.2M30.1 350.12V366.82M27.5 350.12h5.2M27.5 366.82h5.2M34.45 355.46V371.86M31.85 355.46h5.2M31.85 371.86h5.2M38.8 359.2V375.3M36.2 359.2h5.2M36.2 375.3h5.2M43.15 362.54V378.34M40.55 362.54h5.2M40.55 378.34h5.2M47.5 362.69V378.19M44.9 362.69h5.2M44.9 378.19h5.2M51.84 365.23V380.43M49.24 365.23h5.2M49.24 380.43h5.2M56.19 364.58V379.48M53.59 364.58h5.2M53.59 379.48h5.2M60.54 365.53V380.13M57.94 365.53h5.2M57.94 380.13h5.2M64.89 371.26V385.56M62.29 371.26h5.2M62.29 385.56h5.2M69.24 375V389M66.64 375h5.2M66.64 389h5.2M73.59 376.29V390.09M70.99 376.29h5.2M70.99 390.09h5.2M77.94 378.39V391.99M75.34 378.39h5.2M75.34 391.99h5.2M82.29 380.48V393.88M79.69 380.48h5.2M79.69 393.88h5.2M86.64 387.76V400.96M84.04 387.76h5.2M84.04 400.96h5.2M90.99 399.42V412.42M88.39 399.42h5.2M88.39 412.42h5.2M95.34 404.3V417.1M92.74 404.3h5.2M92.74 417.1h5.2M99.69 405V417.6M97.09 405h5.2M97.09 417.6h5.2M104.03 405.7V418.1M101.44 405.7h5.2M101.44 418.1h5.2M108.38 409.79V421.99M105.78 409.79h5.2M105.78 421.99h5.2M112.73 414.67V426.67M110.13 414.67h5.2M110.13 426.67h5.2M117.08 422.27V434.22M114.48 422.27h5.2M114.48 434.22h5.2M121.43 431.07V442.97M118.83 431.07h5.2M118.83 442.97h5.2M125.78 439.07V450.92M123.18 439.07h5.2M123.18 450.92h5.2M130.13 439.69V451.49M127.53 439.69h5.2M127.53 451.49h5.2M134.48 440.31V452.06M131.88 440.31h5.2M131.88 452.06h5.2M138.83 441.93V453.63M136.23 441.93h5.2M136.23 453.63h5.2M143.18 451.13V462.78M140.58 451.13h5.2M140.58 462.78h5.2M147.53 461.92V473.52M144.93 461.92h5.2M144.93 473.52h5.2M151.88 465.93V477.48M149.28 465.93h5.2M149.28 477.48h5.2M156.22 466.75V478.25M153.62 466.75h5.2M153.62 478.25h5.2M160.57 467.18V478.63M157.97 467.18h5.2M157.97 478.63h5.2M164.92 467.6V479M162.32 467.6h5.2M162.32 479h5.2M169.27 468.02V479.37M166.67 468.02h5.2M166.67 479.37h5.2M173.62 468.45V479.75M171.02 468.45h5.2M171.02 479.75h5.2M177.97 468.87V480.12M175.37 468.87h5.2M175.37 480.12h5.2M182.32 469.3V480.5M179.72 469.3h5.2M179.72 480.5h5.2M186.67 472.51V483.66M184.07 472.51h5.2M184.07 483.66h5.2M191.02 472.73V483.83M188.42 472.73h5.2M188.42 483.83h5.2M195.37 472.96V484.01M192.77 472.96h5.2M192.77 484.01h5.2M199.72 473.18V484.18M197.12 473.18h5.2M197.12 484.18h5.2M204.07 473.41V484.36M201.47 473.41h5.2M201.47 484.36h5.2M208.41 473.63V484.53M205.81 473.63h5.2M205.81 484.53h5.2M212.76 473.86V484.71M210.16 473.86h5.2M210.16 484.71h5.2M217.11 480.66V491.46M214.51 480.66h5.2M214.51 491.46h5.2M221.46 481.48V492.23M218.86 481.48h5.2M218.86 492.23h5.2M225.81 484.7V495.4M223.21 484.7h5.2M223.21 495.4h5.2M230.16 491.5V502.15M227.56 491.5h5.2M227.56 502.15h5.2M234.51 492.59V503.19M231.91 492.59h5.2M231.91 503.19h5.2M238.86 493.67V504.22M236.26 493.67h5.2M236.26 504.22h5.2M243.21 494.76V505.26M240.61 494.76h5.2M240.61 505.26h5.2M247.56 500.77V511.22M244.96 500.77h5.2M244.96 511.22h5.2M251.91 500.79V511.19M249.31 500.79h5.2M249.31 511.19h5.2M256.26 500.82V511.17M253.66 500.82h5.2M253.66 511.17h5.2M260.61 500.84V511.14M258 500.84h5.2M258 511.14h5.2M264.95 500.87V511.12M262.35 500.87h5.2M262.35 511.12h5.2M269.3 500.89V511.09M266.7 500.89h5.2M266.7 511.09h5.2M273.65 500.92V511.07M271.05 500.92h5.2M271.05 511.07h5.2M278 507.72V517.82M275.4 507.72h5.2M275.4 517.82h5.2M282.35 507.95V518M279.75 507.95h5.2M279.75 518h5.2M286.7 508.17V518.17M284.1 508.17h5.2M284.1 518.17h5.2"/>
<path fill="none" stroke="#ff00ff" stroke-width="0.9" d="M25.75 353.23l2.53 4.6h-5.06zM30.1 355.62l2.53 4.6h-5.06zM34.45 360.81l2.53 4.6h-5.06zM38.8 364.39l2.53 4.6h-5.06zM43.15 367.58l2.53 4.6h-5.06zM47.5 367.58l2.53 4.6h-5.06zM51.84 369.98l2.53 4.6h-5.06zM56.19 369.18l2.53 4.6h-5.06zM60.54 369.98l2.53 4.6h-5.06zM64.89 375.56l2.53 4.6h-5.06zM69.24 379.15l2.53 4.6h-5.06zM73.59 380.34l2.53 4.6h-5.06zM77.94 382.34l2.53 4.6h-5.06zM82.29 384.33l2.53 4.6h-5.06zM86.64 391.51l2.53 4.6h-5.06zM90.99 403.07l2.53 4.6h-5.06zM95.34 407.85l2.53 4.6h-5.06zM99.69 408.45l2.53 4.6h-5.06zM104.03 409.05l2.53 4.6h-5.06zM108.38 413.04l2.53 4.6h-5.06zM112.73 417.82l2.53 4.6h-5.06zM117.08 425.4l2.53 4.6h-5.06zM121.43 434.17l2.53 4.6h-5.06zM125.78 442.14l2.53 4.6h-5.06zM130.13 442.74l2.53 4.6h-5.06zM134.48 443.34l2.53 4.6h-5.06zM138.83 444.93l2.53 4.6h-5.06zM143.18 454.1l2.53 4.6h-5.06zM147.53 464.87l2.53 4.6h-5.06zM151.88 468.85l2.53 4.6h-5.06zM156.22 469.65l2.53 4.6h-5.06zM160.57 470.05l2.53 4.6h-5.06zM164.92 470.45l2.53 4.6h-5.06zM169.27 470.85l2.53 4.6h-5.06zM173.62 471.25l2.53 4.6h-5.06zM177.97 471.64l2.53 4.6h-5.06zM182.32 472.04l2.53 4.6h-5.06zM186.67 475.23l2.53 4.6h-5.06zM191.02 475.43l2.53 4.6h-5.06zM195.37 475.63l2.53 4.6h-5.06zM199.72 475.83l2.53 4.6h-5.06zM204.07 476.03l2.53 4.6h-5.06zM208.41 476.23l2.53 4.6h-5.06zM212.76 476.43l2.53 4.6h-5.06zM217.11 483.21l2.53 4.6h-5.06zM221.46 484l2.53 4.6h-5.06zM225.81 487.19l2.53 4.6h-5.06zM230.16 493.97l2.53 4.6h-5.06zM234.51 495.03l2.53 4.6h-5.06zM238.86 496.1l2.53 4.6h-5.06zM243.21 497.16l2.53 4.6h-5.06zM247.56 503.14l2.53 4.6h-5.06zM251.91 503.14l2.53 4.6h-5.06zM256.26 503.14l2.53 4.6h-5.06zM260.61 503.14l2.53 4.6h-5.06zM264.95 503.14l2.53 4.6h-5.06zM269.3 503.14l2.53 4.6h-5.06zM273.65 503.14l2.53 4.6h-5.06zM278 509.92l2.53 4.6h-5.06zM282.35 510.12l2.53 4.6h-5.06zM286.7 510.32l2.53 4.6h-5.06z"/>
<polyline fill="none" stroke="#0000ff" stroke-width="0.9" points="25.75,356.08 30.1,357.28 34.45,360.87 38.8,374.42 43.15,376.02 47.5,376.42 51.84,378.41 56.19,382 60.54,382.8 64.89,383.59 69.24,384.39 73.59,384.79 77.94,383.99 82.29,389.17 86.64,392.76 90.99,394.36 95.34,394.44 99.69,394.52 104.03,394.6 108.38,394.68 112.73,394.76 117.08,397.15 121.43,410.31 125.78,411.5 130.13,412.7 134.48,414.69 138.83,418.68 143.18,421.07 147.53,423.46 151.88,425.46 156.22,429.44 160.57,429.84 164.92,430.24 169.27,438.61 173.62,442.6 177.97,442.6 182.32,442.6 186.67,442.6 191.02,442.6 195.37,442.6 199.72,446.19 204.07,450.18 208.41,452.17 212.76,461.34 217.11,461.74 221.46,462.14 225.81,469.71 230.16,471.31 234.51,471.9 238.86,472.5 243.21,473.3 247.56,475.29 251.91,475.29 256.26,475.29 260.61,475.29 264.95,475.29 269.3,475.29 273.65,478.48 278,484.46 282.35,485.26 286.7,486.06"/>
<path fill="none" stroke="#0000ff" stroke-width="0.9" d="M25.75 350.08V362.08M23.15 350.08h5.2M23.15 362.08h5.2M30.1 350.78V363.78M27.5 350.78h5.2M27.5 363.78h5.2M34.45 353.87V367.87M31.85 353.87h5.2M31.85 367.87h5.2M38.8 366.92V381.92M36.2 366.92h5.2M36.2 381.92h5.2M43.15 368.56V383.48M40.55 368.56h5.2M40.55 383.48h5.2M47.5 369V383.83M44.9 369h5.2M44.9 383.83h5.2M51.84 371.03V385.78M49.24 371.03h5.2M49.24 385.78h5.2M56.19 374.66V389.33M53.59 374.66h5.2M53.59 389.33h5.2M60.54 375.5V390.09M57.94 375.5h5.2M57.94 390.09h5.2M64.89 376.34V390.84M62.29 376.34h5.2M62.29 390.84h5.2M69.24 377.18V391.6M66.64 377.18h5.2M66.64 391.6h5.2M73.59 377.62V391.96M70.99 377.62h5.2M70.99 391.96h5.2M77.94 376.87V391.12M75.34 376.87h5.2M75.34 391.12h5.2M82.29 382.09V396.26M79.69 382.09h5.2M79.69 396.26h5.2M86.64 385.72V399.8M84.04 385.72h5.2M84.04 399.8h5.2M90.99 387.36V401.36M88.39 387.36h5.2M88.39 401.36h5.2M95.34 387.46V401.42M92.74 387.46h5.2M92.74 401.42h5.2M99.69 387.55V401.48M97.09 387.55h5.2M97.09 401.48h5.2M104.03 387.65V401.54M101.44 387.65h5.2M101.44 401.54h5.2M108.38 387.75V401.61M105.78 387.75h5.2M105.78 401.61h5.2M112.73 387.85V401.67M110.13 387.85h5.2M110.13 401.67h5.2M117.08 390.26V404.04M114.48 390.26h5.2M114.48 404.04h5.2M121.43 403.43V417.18M118.83 403.43h5.2M118.83 417.18h5.2M125.78 404.64V418.36M123.18 404.64h5.2M123.18 418.36h5.2M130.13 405.86V419.54M127.53 405.86h5.2M127.53 419.54h5.2M134.48 407.87V421.51M131.88 407.87h5.2M131.88 421.51h5.2M138.83 411.87V425.48M136.23 411.87h5.2M136.23 425.48h5.2M143.18 414.28V427.86M140.58 414.28h5.2M140.58 427.86h5.2M147.53 416.69V430.23M144.93 416.69h5.2M144.93 430.23h5.2M151.88 418.71V432.21M149.28 418.71h5.2M149.28 432.21h5.2M156.22 422.71V436.18M153.62 422.71h5.2M153.62 436.18h5.2M160.57 423.13V436.56M157.97 423.13h5.2M157.97 436.56h5.2M164.92 423.54V436.94M162.32 423.54h5.2M162.32 436.94h5.2M169.27 431.93V445.29M166.67 431.93h5.2M166.67 445.29h5.2M173.62 435.94V449.26M171.02 435.94h5.2M171.02 449.26h5.2M177.97 435.96V449.24M175.37 435.96h5.2M175.37 449.24h5.2M182.32 435.97V449.23M179.72 435.97h5.2M179.72 449.23h5.2M186.67 435.99V449.21M184.07 435.99h5.2M184.07 449.21h5.2M191.02 436.01V449.19M188.42 436.01h5.2M188.42 449.19h5.2M195.37 436.03V449.17M192.77 436.03h5.2M192.77 449.17h5.2M199.72 439.63V452.74M197.12 439.63h5.2M197.12 452.74h5.2M204.07 443.64V456.71M201.47 443.64h5.2M201.47 456.71h5.2M208.41 445.65V458.69M205.81 445.65h5.2M205.81 458.69h5.2M212.76 454.84V467.84M210.16 454.84h5.2M210.16 467.84h5.2M217.11 455.25V468.22M214.51 455.25h5.2M214.51 468.22h5.2M221.46 455.67V468.6M218.86 455.67h5.2M218.86 468.6h5.2M225.81 463.26V476.16M223.21 463.26h5.2M223.21 476.16h5.2M230.16 464.88V477.74M227.56 464.88h5.2M227.56 477.74h5.2M234.51 465.49V478.32M231.91 465.49h5.2M231.91 478.32h5.2M238.86 466.11V478.9M236.26 466.11h5.2M236.26 478.9h5.2M243.21 466.92V479.68M240.61 466.92h5.2M240.61 479.68h5.2M247.56 468.93V481.65M244.96 468.93h5.2M244.96 481.65h5.2M251.91 468.95V481.64M249.31 468.95h5.2M249.31 481.64h5.2M256.26 468.97V481.62M253.66 468.97h5.2M253.66 481.62h5.2M260.61 468.99V481.6M258 468.99h5.2M258 481.6h5.2M264.95 469V481.58M262.35 469h5.2M262.35 481.58h5.2M269.3 469.02V481.56M266.7 469.02h5.2M266.7 481.56h5.2M273.65 472.23V484.74M271.05 472.23h5.2M271.05 484.74h5.2M278 478.23V490.7M275.4 478.23h5.2M275.4 490.7h5.2M282.35 479.04V491.48M279.75 479.04h5.2M279.75 491.48h5.2M286.7 479.86V492.26M284.1 479.86h5.2M284.1 492.26h5.2"/>
<path fill="none" stroke="#0000ff" stroke-width="0.9" d="M25.75 353.23l2.53 4.6h-5.06zM30.1 354.43l2.53 4.6h-5.06zM34.45 358.01l2.53 4.6h-5.06zM38.8 371.57l2.53 4.6h-5.06zM43.15 373.17l2.53 4.6h-5.06zM47.5 373.56l2.53 4.6h-5.06zM51.84 375.56l2.53 4.6h-5.06zM56.19 379.15l2.53 4.6h-5.06zM60.54 379.94l2.53 4.6h-5.06zM64.89 380.74l2.53 4.6h-5.06zM69.24 381.54l2.53 4.6h-5.06zM73.59 381.94l2.53 4.6h-5.06zM77.94 381.14l2.53 4.6h-5.06zM82.29 386.32l2.53 4.6h-5.06zM86.64 389.91l2.53 4.6h-5.06zM90.99 391.51l2.53 4.6h-5.06zM95.34 391.59l2.53 4.6h-5.06zM99.69 391.67l2.53 4.6h-5.06zM104.03 391.74l2.53 4.6h-5.06zM108.38 391.82l2.53 4.6h-5.06zM112.73 391.9l2.53 4.6h-5.06zM117.08 394.3l2.53 4.6h-5.06zM121.43 407.45l2.53 4.6h-5.06zM125.78 408.65l2.53 4.6h-5.06zM130.13 409.85l2.53 4.6h-5.06zM134.48 411.84l2.53 4.6h-5.06zM138.83 415.83l2.53 4.6h-5.06zM143.18 418.22l2.53 4.6h-5.06zM147.53 420.61l2.53 4.6h-5.06zM151.88 422.6l2.53 4.6h-5.06zM156.22 426.59l2.53 4.6h-5.06zM160.57 426.99l2.53 4.6h-5.06zM164.92 427.39l2.53 4.6h-5.06zM169.27 435.76l2.53 4.6h-5.06zM173.62 439.75l2.53 4.6h-5.06zM177.97 439.75l2.53 4.6h-5.06zM182.32 439.75l2.53 4.6h-5.06zM186.67 439.75l2.53 4.6h-5.06zM191.02 439.75l2.53 4.6h-5.06zM195.37 439.75l2.53 4.6h-5.06zM199.72 443.34l2.53 4.6h-5.06zM204.07 447.32l2.53 4.6h-5.06zM208.41 449.32l2.53 4.6h-5.06zM212.76 458.49l2.53 4.6h-5.06zM217.11 458.89l2.53 4.6h-5.06zM221.46 459.28l2.53 4.6h-5.06zM225.81 466.86l2.53 4.6h-5.06zM230.16 468.45l2.53 4.6h-5.06zM234.51 469.05l2.53 4.6h-5.06zM238.86 469.65l2.53 4.6h-5.06zM243.21 470.45l2.53 4.6h-5.06zM247.56 472.44l2.53 4.6h-5.06zM251.91 472.44l2.53 4.6h-5.06zM256.26 472.44l2.53 4.6h-5.06zM260.61 472.44l2.53 4.6h-5.06zM264.95 472.44l2.53 4.6h-5.06zM269.3 472.44l2.53 4.6h-5.06zM273.65 475.63l2.53 4.6h-5.06zM278 481.61l2.53 4.6h-5.06zM282.35 482.41l2.53 4.6h-5.06zM286.7 483.21l2.53 4.6h-5.06z"/>
<polyline fill="none" stroke="#00ff00" stroke-width="0.9" points="25.75,356.08 30.1,357.28 34.45,359.27 38.8,362.86 43.15,368.44 47.5,369.24 51.84,371.23 56.19,372.03 60.54,374.42 64.89,375.22 69.24,376.02 73.59,377.61 77.94,378.01 82.29,381.2 86.64,384.39 90.99,386.38 95.34,386.58 99.69,386.78 104.03,386.98 108.38,387.18 112.73,393.56 117.08,396.35 121.43,399.54 125.78,404.72 130.13,406.32 134.48,408.71 138.83,415.49 143.18,417.88 147.53,418.68 151.88,421.07 156.22,424.26 160.57,425.46 164.92,425.52 169.27,425.59 173.62,425.66 177.97,425.72 182.32,425.79 186.67,425.85 191.02,425.92 195.37,425.99 199.72,426.05 204.07,426.12 208.41,426.19 212.76,426.25 217.11,433.03 221.46,450.57 225.81,450.47 230.16,450.37 234.51,450.28 238.86,450.18 243.21,450.08 247.56,449.98 251.91,449.88 256.26,449.78 260.61,462.14 264.95,464.53 269.3,469.71 273.65,469.71 278,469.71 282.35,469.71 286.7,469.71"/>
<path fill="none" stroke="#00ff00" stroke-width="0.9" d="M25.75 349.08V363.08M23.15 349.08h5.2M23.15 363.08h5.2M30.1 350.27V364.29M27.5 350.27h5.2M27.5 364.29h5.2M34.45 352.26V366.29M31.85 352.26h5.2M31.85 366.29h5.2M38.8 355.84V369.88M36.2 355.84h5.2M36.2 369.88h5.2M43.15 361.42V375.47M40.55 361.42h5.2M40.55 375.47h5.2M47.5 362.21V376.27M44.9 362.21h5.2M44.9 376.27h5.2M51.84 364.19V378.27M49.24 364.19h5.2M49.24 378.27h5.2M56.19 364.98V379.08M53.59 364.98h5.2M53.59 379.08h5.2M60.54 367.37V381.48M57.94 367.37h5.2M57.94 381.48h5.2M64.89 368.16V382.28M62.29 368.16h5.2M62.29 382.28h5.2M69.24 368.95V383.08M66.64 368.95h5.2M66.64 383.08h5.2M73.59 370.54V384.69M70.99 370.54h5.2M70.99 384.69h5.2M77.94 370.93V385.09M75.34 370.93h5.2M75.34 385.09h5.2M82.29 374.11V388.29M79.69 374.11h5.2M79.69 388.29h5.2M86.64 377.3V391.48M84.04 377.3h5.2M84.04 391.48h5.2M90.99 379.28V393.48M88.39 379.28h5.2M88.39 393.48h5.2M95.34 379.48V393.69M92.74 379.48h5.2M92.74 393.69h5.2M99.69 379.67V393.9M97.09 379.67h5.2M97.09 393.9h5.2M104.03 379.86V394.1M101.44 379.86h5.2M101.44 394.1h5.2M108.38 380.05V394.31M105.78 380.05h5.2M105.78 394.31h5.2M112.73 386.43V400.69M110.13 386.43h5.2M110.13 400.69h5.2M117.08 389.21V403.49M114.48 389.21h5.2M114.48 403.49h5.2M121.43 392.39V406.69M118.83 392.39h5.2M118.83 406.69h5.2M125.78 397.57V411.88M123.18 397.57h5.2M123.18 411.88h5.2M130.13 399.16V413.48M127.53 399.16h5.2M127.53 413.48h5.2M134.48 401.54V415.88M131.88 401.54h5.2M131.88 415.88h5.2M138.83 408.32V422.66M136.23 408.32h5.2M136.23 422.66h5.2M143.18 410.7V425.06M140.58 410.7h5.2M140.58 425.06h5.2M147.53 411.49V425.86M144.93 411.49h5.2M144.93 425.86h5.2M151.88 413.88V428.26M149.28 413.88h5.2M149.28 428.26h5.2M156.22 417.06V431.46M153.62 417.06h5.2M153.62 431.46h5.2M160.57 418.26V432.65M157.97 418.26h5.2M157.97 432.65h5.2M164.92 418.34V432.71M162.32 418.34h5.2M162.32 432.71h5.2M169.27 418.42V432.76M166.67 418.42h5.2M166.67 432.76h5.2M173.62 418.49V432.82M171.02 418.49h5.2M171.02 432.82h5.2M177.97 418.57V432.88M175.37 418.57h5.2M175.37 432.88h5.2M182.32 418.64V432.94M179.72 418.64h5.2M179.72 432.94h5.2M186.67 418.72V432.99M184.07 418.72h5.2M184.07 432.99h5.2M191.02 418.79V433.05M188.42 418.79h5.2M188.42 433.05h5.2M195.37 418.87V433.11M192.77 418.87h5.2M192.77 433.11h5.2M199.72 418.94V433.17M197.12 418.94h5.2M197.12 433.17h5.2M204.07 419.02V433.23M201.47 419.02h5.2M201.47 433.23h5.2M208.41 419.09V433.28M205.81 419.09h5.2M205.81 433.28h5.2M212.76 419.17V433.34M210.16 419.17h5.2M210.16 433.34h5.2M217.11 425.95V440.11M214.51 425.95h5.2M214.51 440.11h5.2M221.46 443.5V457.64M218.86 443.5h5.2M218.86 457.64h5.2M225.81 443.41V457.54M223.21 443.41h5.2M223.21 457.54h5.2M230.16 443.32V457.43M227.56 443.32h5.2M227.56 457.43h5.2M234.51 443.23V457.32M231.91 443.23h5.2M231.91 457.32h5.2M238.86 443.14V457.21M236.26 443.14h5.2M236.26 457.21h5.2M243.21 443.05V457.1M240.61 443.05h5.2M240.61 457.1h5.2M247.56 442.96V456.99M244.96 442.96h5.2M244.96 456.99h5.2M251.91 442.87V456.89M249.31 442.87h5.2M249.31 456.89h5.2M256.26 442.78V456.78M253.66 442.78h5.2M253.66 456.78h5.2M260.61 455.74V468.54M258 455.74h5.2M258 468.54h5.2M264.95 458.73V470.33M262.35 458.73h5.2M262.35 470.33h5.2M269.3 463.91V475.51M266.7 463.91h5.2M266.7 475.51h5.2M273.65 463.91V475.51M271.05 463.91h5.2M271.05 475.51h5.2M278 463.91V475.51M275.4 463.91h5.2M275.4 475.51h5.2M282.35 463.91V475.51M279.75 463.91h5.2M279.75 475.51h5.2M286.7 463.91V475.51M284.1 463.91h5.2M284.1 475.51h5.2"/>
<path fill="none" stroke="#00ff00" stroke-width="0.9" d="M23.65 353.98h4.2v4.2h-4.2zM28 355.18h4.2v4.2h-4.2zM32.35 357.17h4.2v4.2h-4.2zM36.7 360.76h4.2v4.2h-4.2zM41.05 366.34h4.2v4.2h-4.2zM45.4 367.14h4.2v4.2h-4.2zM49.74 369.13h4.2v4.2h-4.2zM54.09 369.93h4.2v4.2h-4.2zM58.44 372.32h4.2v4.2h-4.2zM62.79 373.12h4.2v4.2h-4.2zM67.14 373.92h4.2v4.2h-4.2zM71.49 375.51h4.2v4.2h-4.2zM75.84 375.91h4.2v4.2h-4.2zM80.19 379.1h4.2v4.2h-4.2zM84.54 382.29h4.2v4.2h-4.2zM88.89 384.28h4.2v4.2h-4.2zM93.24 384.48h4.2v4.2h-4.2zM97.59 384.68h4.2v4.2h-4.2zM101.94 384.88h4.2v4.2h-4.2zM106.28 385.08h4.2v4.2h-4.2zM110.63 391.46h4.2v4.2h-4.2zM114.98 394.25h4.2v4.2h-4.2zM119.33 397.44h4.2v4.2h-4.2zM123.68 402.62h4.2v4.2h-4.2zM128.03 404.22h4.2v4.2h-4.2zM132.38 406.61h4.2v4.2h-4.2zM136.73 413.39h4.2v4.2h-4.2zM141.08 415.78h4.2v4.2h-4.2zM145.43 416.58h4.2v4.2h-4.2zM149.78 418.97h4.2v4.2h-4.2zM154.12 422.16h4.2v4.2h-4.2zM158.47 423.36h4.2v4.2h-4.2zM162.82 423.42h4.2v4.2h-4.2zM167.17 423.49h4.2v4.2h-4.2zM171.52 423.56h4.2v4.2h-4.2zM175.87 423.62h4.2v4.2h-4.2zM180.22 423.69h4.2v4.2h-4.2zM184.57 423.75h4.2v4.2h-4.2zM188.92 423.82h4.2v4.2h-4.2zM193.27 423.89h4.2v4.2h-4.2zM197.62 423.95h4.2v4.2h-4.2zM201.97 424.02h4.2v4.2h-4.2zM206.31 424.09h4.2v4.2h-4.2zM210.66 424.15h4.2v4.2h-4.2zM215.01 430.93h4.2v4.2h-4.2zM219.36 448.47h4.2v4.2h-4.2zM223.71 448.37h4.2v4.2h-4.2zM228.06 448.27h4.2v4.2h-4.2zM232.41 448.18h4.2v4.2h-4.2zM236.76 448.08h4.2v4.2h-4.2zM241.11 447.98h4.2v4.2h-4.2zM245.46 447.88h4.2v4.2h-4.2zM249.81 447.78h4.2v4.2h-4.2zM254.16 447.68h4.2v4.2h-4.2zM258.5 460.04h4.2v4.2h-4.2zM262.85 462.43h4.2v4.2h-4.2zM267.2 467.61h4.2v4.2h-4.2zM271.55 467.61h4.2v4.2h-4.2zM275.9 467.61h4.2v4.2h-4.2zM280.25 467.61h4.2v4.2h-4.2zM284.6 467.61h4.2v4.2h-4.2z"/>
<path fill="none" stroke="#555" stroke-width="1" d="M25.75 335.35V534.7H286.7M25.75 534.7v-2.6M69.24 534.7v-2.6M112.73 534.7v-2.6M156.22 534.7v-2.6M199.72 534.7v-2.6M243.21 534.7v-2.6M286.7 534.7v-2.6M25.75 534.7h2.6M25.75 494.83h2.6M25.75 454.96h2.6M25.75 415.09h2.6M25.75 375.22h2.6M25.75 335.35h2.6"/>
<text x="25.75" y="551.3" font-size="10.5" text-anchor="middle" font-weight="normal" font-family='"Liberation Sans", sans-serif' fill="#262626" textLength="12.84" lengthAdjust="spacingAndGlyphs">40</text>
<text x="69.24" y="551.3" font-size="10.5" text-anchor="middle" font-weight="normal" font-family='"Liberation Sans", sans-serif' fill="#262626" textLength="12.84" lengthAdjust="spacingAndGlyphs">50</text>
<text x="112.73" y="551.3" font-size="10.5" text-anchor="middle" font-weight="normal" font-family='"Liberation Sans", sans-serif' fill="#262626" textLength="12.84" lengthAdjust="spacingAndGlyphs">60</text>
<text x="156.22" y="551.3" font-size="10.5" text-anchor="middle" font-weight="normal" font-family='"Liberation Sans", sans-serif' fill="#262626" textLength="12.84" lengthAdjust="spacingAndGlyphs">70</text>
<text x="199.72" y="551.3" font-size="10.5" text-anchor="middle" font-weight="normal" font-family='"Liberation Sans", sans-serif' fill="#262626" textLength="12.84" lengthAdjust="spacingAndGlyphs">80</text>
<text x="243.21" y="551.3" font-size="10.5" text-anchor="middle" font-weight="normal" font-family='"Liberation Sans", sans-serif' fill="#262626" textLength="12.84" lengthAdjust="spacingAndGlyphs">90</text>
<text x="286.7" y="551.3" font-size="10.5" text-anchor="middle" font-weight="normal" font-family='"Liberation Sans", sans-serif' fill="#262626" textLength="19.27" lengthAdjust="spacingAndGlyphs">100</text>
<text x="21.45" y="539.1" font-size="10.5" text-anchor="end" font-weight="normal" font-family='"Liberation Sans", sans-serif' fill="#262626" textLength="6.42" lengthAdjust="spacingAndGlyphs">4</text>
<text x="21.45" y="499.23" font-size="10.5" text-anchor="end" font-weight="normal" font-family='"Liberation Sans", sans-serif' fill="#262626" textLength="6.42" lengthAdjust="spacingAndGlyphs">5</text>
<text x="21.45" y="459.36" font-size="10.5" text-anchor="end" font-weight="normal" font-family='"Liberation Sans", sans-serif' fill="#262626" textLength="6.42" lengthAdjust="spacingAndGlyphs">6</text>
<text x="21.45" y="419.49" font-size="10.5" text-anchor="end" font-weight="normal" font-family='"Liberation Sans", sans-serif' fill="#262626" textLength="6.42" lengthAdjust="spacingAndGlyphs">7</text>
<text x="21.45" y="379.62" font-size="10.5" text-anchor="end" font-weight="normal" font-family='"Liberation Sans", sans-serif' fill="#262626" textLength="6.42" lengthAdjust="spacingAndGlyphs">8</text>
<text x="21.45" y="339.75" font-size="10.5" text-anchor="end" font-weight="normal" font-family='"Liberation Sans", sans-serif' fill="#262626" textLength="6.42" lengthAdjust="spacingAndGlyphs">9</text>
<text x="156.5" y="330.2" font-size="11.7" text-anchor="middle" font-weight="bold" font-family='"Liberation Sans", sans-serif' fill="#000" textLength="95.9" lengthAdjust="spacingAndGlyphs">Rosenbrock - 3D</text>
<text x="156.2" y="565.6" font-size="12.2" text-anchor="middle" font-weight="normal" font-family='"Liberation Sans", sans-serif' fill="#262626" textLength="110.5" lengthAdjust="spacingAndGlyphs">Number of Iterations</text>
<text transform="translate(10.9 435.03) rotate(-90)" font-size="12.3" text-anchor="middle" font-family='"Liberation Sans", sans-serif' fill="#262626" textLength="78.4" lengthAdjust="spacingAndGlyphs">Simple Regret</text>
<text x="155" y="600.5" font-size="25" text-anchor="middle" font-weight="normal" font-family='"Liberation Serif", serif' fill="#000" textLength="199.7" lengthAdjust="spacingAndGlyphs">(c) 3D-Rosenbrock</text>
<rect x="173.25" y="341.5" width="107.5" height="42.5" fill="#fff" stroke="#6a6a6a" stroke-width="1"/>
<path fill="none" stroke="#ff00ff" stroke-width="0.9" d="M175.85 349h24M188.05 343.6v10.8M185.85 343.6h4.4M185.85 354.4h4.4M188.05 346.1l2.5 4.6h-5z"/>
<text x="202.25" y="353.4" font-size="10" text-anchor="start" font-weight="normal" font-family='"Liberation Sans", sans-serif' fill="#000" >Full GP</text>
<path fill="none" stroke="#0000ff" stroke-width="0.9" d="M175.85 362.35h24M188.05 356.95v10.8M185.85 356.95h4.4M185.85 367.75h4.4M188.05 359.45l2.5 4.6h-5z"/>
<text x="202.25" y="366.75" font-size="10" text-anchor="start" font-weight="normal" font-family='"Liberation Sans", sans-serif' fill="#000" >Enhanced SSGP</text>
<path fill="none" stroke="#00ff00" stroke-width="0.9" d="M175.85 375.7h24M188.05 370.3v10.8M185.85 370.3h4.4M185.85 381.1h4.4M185.65 375.7a2.4 2.4 0 1 0 4.8 0a2.4 2.4 0 1 0 -4.8 0"/>
<text x="202.25" y="380.1" font-size="10" text-anchor="start" font-weight="normal" font-family='"Liberation Sans", sans-serif' fill="#000" >SSGP</text>
<polyline fill="none" stroke="#ff00ff" stroke-width="0.9" points="371.1,352.49 373.71,352.49 376.32,352.49 378.93,352.49 381.54,352.49 384.15,352.49 386.76,352.49 389.37,352.49 391.98,354.48 394.59,366.03 397.2,372.61 399.81,375.2 402.42,379.38 405.03,385.16 407.64,389.35 410.25,394.13 412.86,397.72 415.47,402.5 418.08,407.48 420.69,415.85 423.3,418.24 425.91,418.35 428.52,418.47 431.13,418.58 433.74,418.69 436.35,418.81 438.96,418.92 441.57,419.03 444.18,427.4 446.79,432.38 449.4,436.57 452.01,438.96 454.62,444.34 457.23,444.39 459.84,444.43 462.45,444.48 465.06,444.52 467.67,444.57 470.28,444.62 472.89,444.66 475.5,444.71 478.11,444.75 480.72,444.8 483.33,444.85 485.94,444.89 488.55,444.94 491.16,454.3 493.77,456.89 496.38,460.88 498.99,464.86 501.6,471.04 504.21,471.04 506.82,471.04 509.43,471.04 512.04,471.04 514.65,471.04 517.26,471.04 519.87,471.04 522.48,471.04 525.09,471.04 527.7,471.04 530.31,481.6 532.92,481.6 535.53,481.6 538.14,481.6 540.75,481.6 543.36,487.18 545.97,487.18 548.58,487.18 551.19,494.35 553.8,494.35 556.41,494.35 559.02,501.72 561.63,501.72 564.24,501.72 566.85,501.72 569.46,501.72 572.07,501.72 574.68,501.72 577.29,501.72 579.9,501.72 582.51,501.72 585.12,508.9 587.73,508.9 590.34,508.9 592.95,508.9 595.56,508.9 598.17,518.26 600.78,518.26 603.39,518.26 606,518.26 608.61,518.26 611.22,521.85 613.83,521.85 616.44,521.85 619.05,521.85 621.66,521.85 624.27,525.43 626.88,525.43 629.49,525.43 632.1,525.43"/>
<path fill="none" stroke="#ff00ff" stroke-width="0.9" d="M371.1 347.99V356.99M369 347.99h4.2M369 356.99h4.2M373.71 347.99V356.99M371.61 347.99h4.2M371.61 356.99h4.2M376.32 347.99V356.99M374.22 347.99h4.2M374.22 356.99h4.2M378.93 347.99V356.99M376.83 347.99h4.2M376.83 356.99h4.2M381.54 347.99V356.99M379.44 347.99h4.2M379.44 356.99h4.2M384.15 347.99V356.99M382.05 347.99h4.2M382.05 356.99h4.2M386.76 347.99V356.99M384.66 347.99h4.2M384.66 356.99h4.2M389.37 347.99V356.99M387.27 347.99h4.2M387.27 356.99h4.2M391.98 349.98V358.98M389.88 349.98h4.2M389.88 358.98h4.2M394.59 361.53V370.53M392.49 361.53h4.2M392.49 370.53h4.2M397.2 368.11V377.11M395.1 368.11h4.2M395.1 377.11h4.2M399.81 370.7V379.7M397.71 370.7h4.2M397.71 379.7h4.2M402.42 374.88V383.88M400.32 374.88h4.2M400.32 383.88h4.2M405.03 380.66V389.66M402.93 380.66h4.2M402.93 389.66h4.2M407.64 384.85V393.85M405.54 384.85h4.2M405.54 393.85h4.2M410.25 389.63V398.63M408.15 389.63h4.2M408.15 398.63h4.2M412.86 393.22V402.22M410.76 393.22h4.2M410.76 402.22h4.2M415.47 398V407M413.37 398h4.2M413.37 407h4.2M418.08 402.98V411.98M415.98 402.98h4.2M415.98 411.98h4.2M420.69 411.35V420.35M418.59 411.35h4.2M418.59 420.35h4.2M423.3 413.74V422.74M421.2 413.74h4.2M421.2 422.74h4.2M425.91 413.85V422.85M423.81 413.85h4.2M423.81 422.85h4.2M428.52 413.97V422.97M426.42 413.97h4.2M426.42 422.97h4.2M431.13 414.08V423.08M429.03 414.08h4.2M429.03 423.08h4.2M433.74 414.19V423.19M431.64 414.19h4.2M431.64 423.19h4.2M436.35 414.31V423.31M434.25 414.31h4.2M434.25 423.31h4.2M438.96 414.42V423.42M436.86 414.42h4.2M436.86 423.42h4.2M441.57 414.53V423.53M439.47 414.53h4.2M439.47 423.53h4.2M444.18 422.9V431.9M442.08 422.9h4.2M442.08 431.9h4.2M446.79 427.88V436.88M444.69 427.88h4.2M444.69 436.88h4.2M449.4 432.07V441.07M447.3 432.07h4.2M447.3 441.07h4.2M452.01 434.46V443.46M449.91 434.46h4.2M449.91 443.46h4.2M454.62 439.84V448.84M452.52 439.84h4.2M452.52 448.84h4.2M457.23 439.89V448.89M455.13 439.89h4.2M455.13 448.89h4.2M459.84 439.93V448.93M457.74 439.93h4.2M457.74 448.93h4.2M462.45 439.98V448.98M460.35 439.98h4.2M460.35 448.98h4.2M465.06 440.02V449.02M462.96 440.02h4.2M462.96 449.02h4.2M467.67 440.07V449.07M465.57 440.07h4.2M465.57 449.07h4.2M470.28 440.12V449.12M468.18 440.12h4.2M468.18 449.12h4.2M472.89 440.16V449.16M470.79 440.16h4.2M470.79 449.16h4.2M475.5 440.21V449.21M473.4 440.21h4.2M473.4 449.21h4.2M478.11 440.25V449.25M476.01 440.25h4.2M476.01 449.25h4.2M480.72 440.3V449.3M478.62 440.3h4.2M478.62 449.3h4.2M483.33 440.35V449.35M481.23 440.35h4.2M481.23 449.35h4.2M485.94 440.39V449.39M483.84 440.39h4.2M483.84 449.39h4.2M488.55 440.44V449.44M486.45 440.44h4.2M486.45 449.44h4.2M491.16 449.8V458.8M489.06 449.8h4.2M489.06 458.8h4.2M493.77 452.39V461.39M491.67 452.39h4.2M491.67 461.39h4.2M496.38 456.38V465.38M494.28 456.38h4.2M494.28 465.38h4.2M498.99 460.36V469.36M496.89 460.36h4.2M496.89 469.36h4.2M501.6 466.54V475.54M499.5 466.54h4.2M499.5 475.54h4.2M504.21 466.54V475.54M502.11 466.54h4.2M502.11 475.54h4.2M506.82 466.54V475.54M504.72 466.54h4.2M504.72 475.54h4.2M509.43 466.54V475.54M507.33 466.54h4.2M507.33 475.54h4.2M512.04 466.54V475.54M509.94 466.54h4.2M509.94 475.54h4.2M514.65 466.54V475.54M512.55 466.54h4.2M512.55 475.54h4.2M517.26 466.54V475.54M515.16 466.54h4.2M515.16 475.54h4.2M519.87 466.54V475.54M517.77 466.54h4.2M517.77 475.54h4.2M522.48 466.54V475.54M520.38 466.54h4.2M520.38 475.54h4.2M525.09 466.54V475.54M522.99 466.54h4.2M522.99 475.54h4.2M527.7 466.54V475.54M525.6 466.54h4.2M525.6 475.54h4.2M530.31 477.1V486.1M528.21 477.1h4.2M528.21 486.1h4.2M532.92 477.1V486.1M530.82 477.1h4.2M530.82 486.1h4.2M535.53 477.1V486.1M533.43 477.1h4.2M533.43 486.1h4.2M538.14 477.1V486.1M536.04 477.1h4.2M536.04 486.1h4.2M540.75 477.1V486.1M538.65 477.1h4.2M538.65 486.1h4.2M543.36 482.68V491.68M541.26 482.68h4.2M541.26 491.68h4.2M545.97 482.68V491.68M543.87 482.68h4.2M543.87 491.68h4.2M548.58 482.68V491.68M546.48 482.68h4.2M546.48 491.68h4.2M551.19 489.85V498.85M549.09 489.85h4.2M549.09 498.85h4.2M553.8 489.85V498.85M551.7 489.85h4.2M551.7 498.85h4.2M556.41 489.85V498.85M554.31 489.85h4.2M554.31 498.85h4.2M559.02 497.22V506.22M556.92 497.22h4.2M556.92 506.22h4.2M561.63 497.22V506.22M559.53 497.22h4.2M559.53 506.22h4.2M564.24 497.22V506.22M562.14 497.22h4.2M562.14 506.22h4.2M566.85 497.22V506.22M564.75 497.22h4.2M564.75 506.22h4.2M569.46 497.22V506.22M567.36 497.22h4.2M567.36 506.22h4.2M572.07 497.22V506.22M569.97 497.22h4.2M569.97 506.22h4.2M574.68 497.22V506.22M572.58 497.22h4.2M572.58 506.22h4.2M577.29 497.22V506.22M575.19 497.22h4.2M575.19 506.22h4.2M579.9 497.22V506.22M577.8 497.22h4.2M577.8 506.22h4.2M582.51 497.22V506.22M580.41 497.22h4.2M580.41 506.22h4.2M585.12 504.4V513.4M583.02 504.4h4.2M583.02 513.4h4.2M587.73 504.4V513.4M585.63 504.4h4.2M585.63 513.4h4.2M590.34 504.4V513.4M588.24 504.4h4.2M588.24 513.4h4.2M592.95 504.4V513.4M590.85 504.4h4.2M590.85 513.4h4.2M595.56 504.4V513.4M593.46 504.4h4.2M593.46 513.4h4.2M598.17 513.76V522.76M596.07 513.76h4.2M596.07 522.76h4.2M600.78 513.76V522.76M598.68 513.76h4.2M598.68 522.76h4.2M603.39 513.76V522.76M601.29 513.76h4.2M601.29 522.76h4.2M606 513.76V522.76M603.9 513.76h4.2M603.9 522.76h4.2M608.61 513.76V522.76M606.51 513.76h4.2M606.51 522.76h4.2M611.22 517.35V526.35M609.12 517.35h4.2M609.12 526.35h4.2M613.83 517.35V526.35M611.73 517.35h4.2M611.73 526.35h4.2M616.44 517.35V526.35M614.34 517.35h4.2M614.34 526.35h4.2M619.05 517.35V526.35M616.95 517.35h4.2M616.95 526.35h4.2M621.66 517.35V526.35M619.56 517.35h4.2M619.56 526.35h4.2M624.27 520.93V529.93M622.17 520.93h4.2M622.17 529.93h4.2M626.88 520.93V529.93M624.78 520.93h4.2M624.78 529.93h4.2M629.49 520.93V529.93M627.39 520.93h4.2M627.39 529.93h4.2M632.1 520.93V529.93M630 520.93h4.2M630 529.93h4.2"/>
<path fill="none" stroke="#ff00ff" stroke-width="0.9" d="M371.1 350.01l2.2 4h-4.4zM373.71 350.01l2.2 4h-4.4zM376.32 350.01l2.2 4h-4.4zM378.93 350.01l2.2 4h-4.4zM381.54 350.01l2.2 4h-4.4zM384.15 350.01l2.2 4h-4.4zM386.76 350.01l2.2 4h-4.4zM389.37 350.01l2.2 4h-4.4zM391.98 352l2.2 4h-4.4zM394.59 363.55l2.2 4h-4.4zM397.2 370.13l2.2 4h-4.4zM399.81 372.72l2.2 4h-4.4zM402.42 376.9l2.2 4h-4.4zM405.03 382.68l2.2 4h-4.4zM407.64 386.87l2.2 4h-4.4zM410.25 391.65l2.2 4h-4.4zM412.86 395.24l2.2 4h-4.4zM415.47 400.02l2.2 4h-4.4zM418.08 405l2.2 4h-4.4zM420.69 413.37l2.2 4h-4.4zM423.3 415.76l2.2 4h-4.4zM425.91 415.87l2.2 4h-4.4zM428.52 415.99l2.2 4h-4.4zM431.13 416.1l2.2 4h-4.4zM433.74 416.21l2.2 4h-4.4zM436.35 416.33l2.2 4h-4.4zM438.96 416.44l2.2 4h-4.4zM441.57 416.55l2.2 4h-4.4zM444.18 424.92l2.2 4h-4.4zM446.79 429.9l2.2 4h-4.4zM449.4 434.09l2.2 4h-4.4zM452.01 436.48l2.2 4h-4.4zM454.62 441.86l2.2 4h-4.4zM457.23 441.91l2.2 4h-4.4zM459.84 441.95l2.2 4h-4.4zM462.45 442l2.2 4h-4.4zM465.06 442.04l2.2 4h-4.4zM467.67 442.09l2.2 4h-4.4zM470.28 442.14l2.2 4h-4.4zM472.89 442.18l2.2 4h-4.4zM475.5 442.23l2.2 4h-4.4zM478.11 442.27l2.2 4h-4.4zM480.72 442.32l2.2 4h-4.4zM483.33 442.37l2.2 4h-4.4zM485.94 442.41l2.2 4h-4.4zM488.55 442.46l2.2 4h-4.4zM491.16 451.82l2.2 4h-4.4zM493.77 454.41l2.2 4h-4.4zM496.38 458.4l2.2 4h-4.4zM498.99 462.38l2.2 4h-4.4zM501.6 468.56l2.2 4h-4.4zM504.21 468.56l2.2 4h-4.4zM506.82 468.56l2.2 4h-4.4zM509.43 468.56l2.2 4h-4.4zM512.04 468.56l2.2 4h-4.4zM514.65 468.56l2.2 4h-4.4zM517.26 468.56l2.2 4h-4.4zM519.87 468.56l2.2 4h-4.4zM522.48 468.56l2.2 4h-4.4zM525.09 468.56l2.2 4h-4.4zM527.7 468.56l2.2 4h-4.4zM530.31 479.12l2.2 4h-4.4zM532.92 479.12l2.2 4h-4.4zM535.53 479.12l2.2 4h-4.4zM538.14 479.12l2.2 4h-4.4zM540.75 479.12l2.2 4h-4.4zM543.36 484.7l2.2 4h-4.4zM545.97 484.7l2.2 4h-4.4zM548.58 484.7l2.2 4h-4.4zM551.19 491.87l2.2 4h-4.4zM553.8 491.87l2.2 4h-4.4zM556.41 491.87l2.2 4h-4.4zM559.02 499.24l2.2 4h-4.4zM561.63 499.24l2.2 4h-4.4zM564.24 499.24l2.2 4h-4.4zM566.85 499.24l2.2 4h-4.4zM569.46 499.24l2.2 4h-4.4zM572.07 499.24l2.2 4h-4.4zM574.68 499.24l2.2 4h-4.4zM577.29 499.24l2.2 4h-4.4zM579.9 499.24l2.2 4h-4.4zM582.51 499.24l2.2 4h-4.4zM585.12 506.42l2.2 4h-4.4zM587.73 506.42l2.2 4h-4.4zM590.34 506.42l2.2 4h-4.4zM592.95 506.42l2.2 4h-4.4zM595.56 506.42l2.2 4h-4.4zM598.17 515.78l2.2 4h-4.4zM600.78 515.78l2.2 4h-4.4zM603.39 515.78l2.2 4h-4.4zM606 515.78l2.2 4h-4.4zM608.61 515.78l2.2 4h-4.4zM611.22 519.37l2.2 4h-4.4zM613.83 519.37l2.2 4h-4.4zM616.44 519.37l2.2 4h-4.4zM619.05 519.37l2.2 4h-4.4zM621.66 519.37l2.2 4h-4.4zM624.27 522.95l2.2 4h-4.4zM626.88 522.95l2.2 4h-4.4zM629.49 522.95l2.2 4h-4.4zM632.1 522.95l2.2 4h-4.4z"/>
<polyline fill="none" stroke="#0000ff" stroke-width="0.9" points="371.1,352.49 373.71,352.49 376.32,352.49 378.93,352.49 381.54,352.49 384.15,352.49 386.76,352.49 389.37,366.03 391.98,366.03 394.59,366.03 397.2,366.03 399.81,366.03 402.42,366.03 405.03,366.03 407.64,376.79 410.25,376.79 412.86,376.79 415.47,388.55 418.08,388.55 420.69,388.55 423.3,388.55 425.91,388.55 428.52,397.72 431.13,397.72 433.74,397.72 436.35,397.72 438.96,397.72 441.57,397.72 444.18,415.85 446.79,416 449.4,416.15 452.01,416.3 454.62,416.44 457.23,416.59 459.84,416.74 462.45,416.89 465.06,417.04 467.67,427 470.28,427.6 472.89,428.2 475.5,428.8 478.11,429.4 480.72,429.46 483.33,429.52 485.94,429.58 488.55,429.65 491.16,429.71 493.77,429.77 496.38,429.84 498.99,429.9 501.6,429.96 504.21,430.03 506.82,430.09 509.43,430.15 512.04,430.21 514.65,430.28 517.26,430.34 519.87,430.4 522.48,430.47 525.09,430.53 527.7,430.59 530.31,433.98 532.92,433.98 535.53,433.98 538.14,437.57 540.75,437.57 543.36,437.57 545.97,437.57 548.58,437.57 551.19,437.57 553.8,437.57 556.41,437.57 559.02,437.57 561.63,437.57 564.24,444.34 566.85,444.34 569.46,444.34 572.07,444.34 574.68,444.34 577.29,444.34 579.9,450.32 582.51,450.32 585.12,450.32 587.73,450.32 590.34,450.32 592.95,452.11 595.56,452.11 598.17,452.11 600.78,452.11 603.39,459.48 606,459.48 608.61,459.48 611.22,459.48 613.83,459.48 616.44,471.24 619.05,471.24 621.66,471.24 624.27,471.24 626.88,471.24 629.49,471.24 632.1,471.24"/>
<path fill="none" stroke="#0000ff" stroke-width="0.9" d="M371.1 347.99V356.99M369 347.99h4.2M369 356.99h4.2M373.71 347.99V356.98M371.61 347.99h4.2M371.61 356.98h4.2M376.32 347.99V356.98M374.22 347.99h4.2M374.22 356.98h4.2M378.93 347.99V356.98M376.83 347.99h4.2M376.83 356.98h4.2M381.54 348V356.97M379.44 348h4.2M379.44 356.97h4.2M384.15 348V356.97M382.05 348h4.2M382.05 356.97h4.2M386.76 348V356.97M384.66 348h4.2M384.66 356.97h4.2M389.37 361.56V370.51M387.27 361.56h4.2M387.27 370.51h4.2M391.98 361.56V370.51M389.88 361.56h4.2M389.88 370.51h4.2M394.59 361.56V370.51M392.49 361.56h4.2M392.49 370.51h4.2M397.2 361.56V370.5M395.1 361.56h4.2M395.1 370.5h4.2M399.81 361.57V370.5M397.71 361.57h4.2M397.71 370.5h4.2M402.42 361.57V370.5M400.32 361.57h4.2M400.32 370.5h4.2M405.03 361.57V370.5M402.93 361.57h4.2M402.93 370.5h4.2M407.64 372.34V381.25M405.54 372.34h4.2M405.54 381.25h4.2M410.25 372.34V381.25M408.15 372.34h4.2M408.15 381.25h4.2M412.86 372.34V381.25M410.76 372.34h4.2M410.76 381.25h4.2M415.47 384.1V393M413.37 384.1h4.2M413.37 393h4.2M418.08 384.1V393M415.98 384.1h4.2M415.98 393h4.2M420.69 384.11V392.99M418.59 384.11h4.2M418.59 392.99h4.2M423.3 384.11V392.99M421.2 384.11h4.2M421.2 392.99h4.2M425.91 384.11V392.99M423.81 384.11h4.2M423.81 392.99h4.2M428.52 393.28V402.15M426.42 393.28h4.2M426.42 402.15h4.2M431.13 393.28V402.15M429.03 393.28h4.2M429.03 402.15h4.2M433.74 393.29V402.14M431.64 393.29h4.2M431.64 402.14h4.2M436.35 393.29V402.14M434.25 393.29h4.2M434.25 402.14h4.2M438.96 393.29V402.14M436.86 393.29h4.2M436.86 402.14h4.2M441.57 393.3V402.13M439.47 393.3h4.2M439.47 402.13h4.2M444.18 411.43V420.26M442.08 411.43h4.2M442.08 420.26h4.2M446.79 411.58V420.41M444.69 411.58h4.2M444.69 420.41h4.2M449.4 411.74V420.56M447.3 411.74h4.2M447.3 420.56h4.2M452.01 411.89V420.7M449.91 411.89h4.2M449.91 420.7h4.2M454.62 412.04V420.85M452.52 412.04h4.2M452.52 420.85h4.2M457.23 412.19V421M455.13 412.19h4.2M455.13 421h4.2M459.84 412.35V421.14M457.74 412.35h4.2M457.74 421.14h4.2M462.45 412.5V421.29M460.35 412.5h4.2M460.35 421.29h4.2M465.06 412.65V421.43M462.96 412.65h4.2M462.96 421.43h4.2M467.67 422.62V431.39M465.57 422.62h4.2M465.57 431.39h4.2M470.28 423.22V431.99M468.18 423.22h4.2M468.18 431.99h4.2M472.89 423.82V432.58M470.79 423.82h4.2M470.79 432.58h4.2M475.5 424.42V433.18M473.4 424.42h4.2M473.4 433.18h4.2M478.11 425.02V433.77M476.01 425.02h4.2M476.01 433.77h4.2M480.72 425.08V433.83M478.62 425.08h4.2M478.62 433.83h4.2M483.33 425.15V433.89M481.23 425.15h4.2M481.23 433.89h4.2M485.94 425.22V433.95M483.84 425.22h4.2M483.84 433.95h4.2M488.55 425.28V434.01M486.45 425.28h4.2M486.45 434.01h4.2M491.16 425.35V434.07M489.06 425.35h4.2M489.06 434.07h4.2M493.77 425.41V434.13M491.67 425.41h4.2M491.67 434.13h4.2M496.38 425.48V434.19M494.28 425.48h4.2M494.28 434.19h4.2M498.99 425.55V434.25M496.89 425.55h4.2M496.89 434.25h4.2M501.6 425.61V434.31M499.5 425.61h4.2M499.5 434.31h4.2M504.21 425.68V434.37M502.11 425.68h4.2M502.11 434.37h4.2M506.82 425.74V434.43M504.72 425.74h4.2M504.72 434.43h4.2M509.43 425.81V434.49M507.33 425.81h4.2M507.33 434.49h4.2M512.04 425.88V434.55M509.94 425.88h4.2M509.94 434.55h4.2M514.65 425.94V434.61M512.55 425.94h4.2M512.55 434.61h4.2M517.26 426.01V434.67M515.16 426.01h4.2M515.16 434.67h4.2M519.87 426.07V434.73M517.77 426.07h4.2M517.77 434.73h4.2M522.48 426.14V434.79M520.38 426.14h4.2M520.38 434.79h4.2M525.09 426.21V434.85M522.99 426.21h4.2M522.99 434.85h4.2M527.7 426.27V434.91M525.6 426.27h4.2M525.6 434.91h4.2M530.31 429.66V438.3M528.21 429.66h4.2M528.21 438.3h4.2M532.92 429.66V438.29M530.82 429.66h4.2M530.82 438.29h4.2M535.53 429.67V438.29M533.43 429.67h4.2M533.43 438.29h4.2M538.14 433.26V441.87M536.04 433.26h4.2M536.04 441.87h4.2M540.75 433.26V441.87M538.65 433.26h4.2M538.65 441.87h4.2M543.36 433.26V441.87M541.26 433.26h4.2M541.26 441.87h4.2M545.97 433.27V441.86M543.87 433.27h4.2M543.87 441.86h4.2M548.58 433.27V441.86M546.48 433.27h4.2M546.48 441.86h4.2M551.19 433.27V441.86M549.09 433.27h4.2M549.09 441.86h4.2M553.8 433.28V441.86M551.7 433.28h4.2M551.7 441.86h4.2M556.41 433.28V441.85M554.31 433.28h4.2M554.31 441.85h4.2M559.02 433.28V441.85M556.92 433.28h4.2M556.92 441.85h4.2M561.63 433.28V441.85M559.53 433.28h4.2M559.53 441.85h4.2M564.24 440.06V448.62M562.14 440.06h4.2M562.14 448.62h4.2M566.85 440.06V448.61M564.75 440.06h4.2M564.75 448.61h4.2M569.46 440.07V448.61M567.36 440.07h4.2M567.36 448.61h4.2M572.07 440.07V448.61M569.97 440.07h4.2M569.97 448.61h4.2M574.68 440.07V448.61M572.58 440.07h4.2M572.58 448.61h4.2M577.29 440.08V448.6M575.19 440.08h4.2M575.19 448.6h4.2M579.9 446.06V454.58M577.8 446.06h4.2M577.8 454.58h4.2M582.51 446.06V454.57M580.41 446.06h4.2M580.41 454.57h4.2M585.12 446.06V454.57M583.02 446.06h4.2M583.02 454.57h4.2M587.73 446.07V454.57M585.63 446.07h4.2M585.63 454.57h4.2M590.34 446.07V454.57M588.24 446.07h4.2M588.24 454.57h4.2M592.95 447.87V456.36M590.85 447.87h4.2M590.85 456.36h4.2M595.56 447.87V456.35M593.46 447.87h4.2M593.46 456.35h4.2M598.17 447.87V456.35M596.07 447.87h4.2M596.07 456.35h4.2M600.78 447.87V456.35M598.68 447.87h4.2M598.68 456.35h4.2M603.39 455.25V463.72M601.29 455.25h4.2M601.29 463.72h4.2M606 455.25V463.71M603.9 455.25h4.2M603.9 463.71h4.2M608.61 455.26V463.71M606.51 455.26h4.2M606.51 463.71h4.2M611.22 455.26V463.71M609.12 455.26h4.2M609.12 463.71h4.2M613.83 455.26V463.7M611.73 455.26h4.2M611.73 463.7h4.2M616.44 467.02V475.46M614.34 467.02h4.2M614.34 475.46h4.2M619.05 467.02V475.45M616.95 467.02h4.2M616.95 475.45h4.2M621.66 467.03V475.45M619.56 467.03h4.2M619.56 475.45h4.2M624.27 467.03V475.45M622.17 467.03h4.2M622.17 475.45h4.2M626.88 467.03V475.44M624.78 467.03h4.2M624.78 475.44h4.2M629.49 467.04V475.44M627.39 467.04h4.2M627.39 475.44h4.2M632.1 467.04V475.44M630 467.04h4.2M630 475.44h4.2"/>
<path fill="none" stroke="#0000ff" stroke-width="0.9" d="M371.1 350.01l2.2 4h-4.4zM373.71 350.01l2.2 4h-4.4zM376.32 350.01l2.2 4h-4.4zM378.93 350.01l2.2 4h-4.4zM381.54 350.01l2.2 4h-4.4zM384.15 350.01l2.2 4h-4.4zM386.76 350.01l2.2 4h-4.4zM389.37 363.55l2.2 4h-4.4zM391.98 363.55l2.2 4h-4.4zM394.59 363.55l2.2 4h-4.4zM397.2 363.55l2.2 4h-4.4zM399.81 363.55l2.2 4h-4.4zM402.42 363.55l2.2 4h-4.4zM405.03 363.55l2.2 4h-4.4zM407.64 374.31l2.2 4h-4.4zM410.25 374.31l2.2 4h-4.4zM412.86 374.31l2.2 4h-4.4zM415.47 386.07l2.2 4h-4.4zM418.08 386.07l2.2 4h-4.4zM420.69 386.07l2.2 4h-4.4zM423.3 386.07l2.2 4h-4.4zM425.91 386.07l2.2 4h-4.4zM428.52 395.24l2.2 4h-4.4zM431.13 395.24l2.2 4h-4.4zM433.74 395.24l2.2 4h-4.4zM436.35 395.24l2.2 4h-4.4zM438.96 395.24l2.2 4h-4.4zM441.57 395.24l2.2 4h-4.4zM444.18 413.37l2.2 4h-4.4zM446.79 413.52l2.2 4h-4.4zM449.4 413.67l2.2 4h-4.4zM452.01 413.82l2.2 4h-4.4zM454.62 413.96l2.2 4h-4.4zM457.23 414.11l2.2 4h-4.4zM459.84 414.26l2.2 4h-4.4zM462.45 414.41l2.2 4h-4.4zM465.06 414.56l2.2 4h-4.4zM467.67 424.52l2.2 4h-4.4zM470.28 425.12l2.2 4h-4.4zM472.89 425.72l2.2 4h-4.4zM475.5 426.32l2.2 4h-4.4zM478.11 426.92l2.2 4h-4.4zM480.72 426.98l2.2 4h-4.4zM483.33 427.04l2.2 4h-4.4zM485.94 427.1l2.2 4h-4.4zM488.55 427.17l2.2 4h-4.4zM491.16 427.23l2.2 4h-4.4zM493.77 427.29l2.2 4h-4.4zM496.38 427.36l2.2 4h-4.4zM498.99 427.42l2.2 4h-4.4zM501.6 427.48l2.2 4h-4.4zM504.21 427.55l2.2 4h-4.4zM506.82 427.61l2.2 4h-4.4zM509.43 427.67l2.2 4h-4.4zM512.04 427.73l2.2 4h-4.4zM514.65 427.8l2.2 4h-4.4zM517.26 427.86l2.2 4h-4.4zM519.87 427.92l2.2 4h-4.4zM522.48 427.99l2.2 4h-4.4zM525.09 428.05l2.2 4h-4.4zM527.7 428.11l2.2 4h-4.4zM530.31 431.5l2.2 4h-4.4zM532.92 431.5l2.2 4h-4.4zM535.53 431.5l2.2 4h-4.4zM538.14 435.09l2.2 4h-4.4zM540.75 435.09l2.2 4h-4.4zM543.36 435.09l2.2 4h-4.4zM545.97 435.09l2.2 4h-4.4zM548.58 435.09l2.2 4h-4.4zM551.19 435.09l2.2 4h-4.4zM553.8 435.09l2.2 4h-4.4zM556.41 435.09l2.2 4h-4.4zM559.02 435.09l2.2 4h-4.4zM561.63 435.09l2.2 4h-4.4zM564.24 441.86l2.2 4h-4.4zM566.85 441.86l2.2 4h-4.4zM569.46 441.86l2.2 4h-4.4zM572.07 441.86l2.2 4h-4.4zM574.68 441.86l2.2 4h-4.4zM577.29 441.86l2.2 4h-4.4zM579.9 447.84l2.2 4h-4.4zM582.51 447.84l2.2 4h-4.4zM585.12 447.84l2.2 4h-4.4zM587.73 447.84l2.2 4h-4.4zM590.34 447.84l2.2 4h-4.4zM592.95 449.63l2.2 4h-4.4zM595.56 449.63l2.2 4h-4.4zM598.17 449.63l2.2 4h-4.4zM600.78 449.63l2.2 4h-4.4zM603.39 457l2.2 4h-4.4zM606 457l2.2 4h-4.4zM608.61 457l2.2 4h-4.4zM611.22 457l2.2 4h-4.4zM613.83 457l2.2 4h-4.4zM616.44 468.76l2.2 4h-4.4zM619.05 468.76l2.2 4h-4.4zM621.66 468.76l2.2 4h-4.4zM624.27 468.76l2.2 4h-4.4zM626.88 468.76l2.2 4h-4.4zM629.49 468.76l2.2 4h-4.4zM632.1 468.76l2.2 4h-4.4z"/>
<polyline fill="none" stroke="#00ff00" stroke-width="0.9" points="371.1,352.49 373.71,352.49 376.32,352.49 378.93,352.49 381.54,352.49 384.15,352.49 386.76,352.49 389.37,365.24 391.98,365.24 394.59,365.24 397.2,365.24 399.81,365.24 402.42,365.24 405.03,365.24 407.64,376.79 410.25,378.39 412.86,378.39 415.47,378.39 418.08,378.39 420.69,378.39 423.3,378.39 425.91,378.39 428.52,378.39 431.13,378.39 433.74,378.39 436.35,378.39 438.96,380.18 441.57,380.18 444.18,380.18 446.79,380.18 449.4,380.18 452.01,380.18 454.62,380.18 457.23,380.18 459.84,380.18 462.45,380.18 465.06,380.18 467.67,380.18 470.28,380.38 472.89,380.58 475.5,380.78 478.11,380.98 480.72,381.18 483.33,384.76 485.94,384.76 488.55,384.76 491.16,384.76 493.77,384.76 496.38,397.12 498.99,397.12 501.6,397.12 504.21,397.12 506.82,414.05 509.43,414.05 512.04,414.05 514.65,414.05 517.26,414.05 519.87,424.22 522.48,424.22 525.09,424.22 527.7,424.22 530.31,424.22 532.92,424.22 535.53,424.22 538.14,424.22 540.75,424.22 543.36,424.22 545.97,424.22 548.58,424.22 551.19,424.22 553.8,424.22 556.41,424.22 559.02,424.22 561.63,428.4 564.24,428.4 566.85,428.4 569.46,428.4 572.07,428.4 574.68,428.4 577.29,428.4 579.9,428.4 582.51,428.4 585.12,428.4 587.73,428.4 590.34,428.4 592.95,428.4 595.56,428.4 598.17,428.4 600.78,428.4 603.39,428.4 606,428.4 608.61,428.4 611.22,428.4 613.83,428.4 616.44,428.4 619.05,428.4 621.66,428.4 624.27,428.4 626.88,428.4 629.49,428.4 632.1,428.4"/>
<path fill="none" stroke="#00ff00" stroke-width="0.9" d="M371.1 347.09V357.89M369 347.09h4.2M369 357.89h4.2M373.71 347.21V357.76M371.61 347.21h4.2M371.61 357.76h4.2M376.32 347.34V357.63M374.22 347.34h4.2M374.22 357.63h4.2M378.93 347.47V357.5M376.83 347.47h4.2M376.83 357.5h4.2M381.54 347.6V357.37M379.44 347.6h4.2M379.44 357.37h4.2M384.15 347.73V357.24M382.05 347.73h4.2M382.05 357.24h4.2M386.76 347.86V357.11M384.66 347.86h4.2M384.66 357.11h4.2M389.37 360.74V369.74M387.27 360.74h4.2M387.27 369.74h4.2M391.98 360.82V369.65M389.88 360.82h4.2M389.88 369.65h4.2M394.59 360.91V369.56M392.49 360.91h4.2M392.49 369.56h4.2M397.2 361V369.47M395.1 361h4.2M395.1 369.47h4.2M399.81 361.09V369.39M397.71 361.09h4.2M397.71 369.39h4.2M402.42 361.17V369.3M400.32 361.17h4.2M400.32 369.3h4.2M405.03 361.26V369.21M402.93 361.26h4.2M402.93 369.21h4.2M407.64 372.91V380.68M405.54 372.91h4.2M405.54 380.68h4.2M410.25 374.59V382.19M408.15 374.59h4.2M408.15 382.19h4.2M412.86 374.58V382.2M410.76 374.58h4.2M410.76 382.2h4.2M415.47 374.57V382.2M413.37 374.57h4.2M413.37 382.2h4.2M418.08 374.56V382.21M415.98 374.56h4.2M415.98 382.21h4.2M420.69 374.56V382.22M418.59 374.56h4.2M418.59 382.22h4.2M423.3 374.55V382.23M421.2 374.55h4.2M421.2 382.23h4.2M425.91 374.54V382.24M423.81 374.54h4.2M423.81 382.24h4.2M428.52 374.53V382.25M426.42 374.53h4.2M426.42 382.25h4.2M431.13 374.52V382.25M429.03 374.52h4.2M429.03 382.25h4.2M433.74 374.51V382.26M431.64 374.51h4.2M431.64 382.26h4.2M436.35 374.51V382.27M434.25 374.51h4.2M434.25 382.27h4.2M438.96 376.29V384.07M436.86 376.29h4.2M436.86 384.07h4.2M441.57 376.28V384.08M439.47 376.28h4.2M439.47 384.08h4.2M444.18 376.27V384.09M442.08 376.27h4.2M442.08 384.09h4.2M446.79 376.27V384.1M444.69 376.27h4.2M444.69 384.1h4.2M449.4 376.26V384.1M447.3 376.26h4.2M447.3 384.1h4.2M452.01 376.25V384.11M449.91 376.25h4.2M449.91 384.11h4.2M454.62 376.24V384.12M452.52 376.24h4.2M452.52 384.12h4.2M457.23 376.23V384.13M455.13 376.23h4.2M455.13 384.13h4.2M459.84 376.22V384.14M457.74 376.22h4.2M457.74 384.14h4.2M462.45 376.22V384.15M460.35 376.22h4.2M460.35 384.15h4.2M465.06 376.21V384.15M462.96 376.21h4.2M462.96 384.15h4.2M467.67 376.2V384.16M465.57 376.2h4.2M465.57 384.16h4.2M470.28 376.39V384.37M468.18 376.39h4.2M468.18 384.37h4.2M472.89 376.58V384.58M470.79 376.58h4.2M470.79 384.58h4.2M475.5 376.77V384.78M473.4 376.77h4.2M473.4 384.78h4.2M478.11 376.96V384.99M476.01 376.96h4.2M476.01 384.99h4.2M480.72 377.16V385.2M478.62 377.16h4.2M478.62 385.2h4.2M483.33 380.73V388.79M481.23 380.73h4.2M481.23 388.79h4.2M485.94 380.73V388.8M483.84 380.73h4.2M483.84 388.8h4.2M488.55 380.72V388.81M486.45 380.72h4.2M486.45 388.81h4.2M491.16 380.71V388.82M489.06 380.71h4.2M489.06 388.82h4.2M493.77 380.7V388.83M491.67 380.7h4.2M491.67 388.83h4.2M496.38 393.05V401.19M494.28 393.05h4.2M494.28 401.19h4.2M498.99 393.04V401.2M496.89 393.04h4.2M496.89 401.2h4.2M501.6 393.03V401.21M499.5 393.03h4.2M499.5 401.21h4.2M504.21 393.02V401.21M502.11 393.02h4.2M502.11 401.21h4.2M506.82 409.95V418.16M504.72 409.95h4.2M504.72 418.16h4.2M509.43 409.94V418.17M507.33 409.94h4.2M507.33 418.17h4.2M512.04 409.93V418.17M509.94 409.93h4.2M509.94 418.17h4.2M514.65 409.92V418.18M512.55 409.92h4.2M512.55 418.18h4.2M517.26 409.92V418.19M515.16 409.92h4.2M515.16 418.19h4.2M519.87 420.07V428.36M517.77 420.07h4.2M517.77 428.36h4.2M522.48 420.06V428.37M520.38 420.06h4.2M520.38 428.37h4.2M525.09 420.05V428.38M522.99 420.05h4.2M522.99 428.38h4.2M527.7 420.04V428.39M525.6 420.04h4.2M525.6 428.39h4.2M530.31 420.04V428.39M528.21 420.04h4.2M528.21 428.39h4.2M532.92 420.03V428.4M530.82 420.03h4.2M530.82 428.4h4.2M535.53 420.02V428.41M533.43 420.02h4.2M533.43 428.41h4.2M538.14 420.01V428.42M536.04 420.01h4.2M536.04 428.42h4.2M540.75 420V428.43M538.65 420h4.2M538.65 428.43h4.2M543.36 420V428.44M541.26 420h4.2M541.26 428.44h4.2M545.97 419.99V428.44M543.87 419.99h4.2M543.87 428.44h4.2M548.58 419.98V428.45M546.48 419.98h4.2M546.48 428.45h4.2M551.19 419.97V428.46M549.09 419.97h4.2M549.09 428.46h4.2M553.8 419.96V428.47M551.7 419.96h4.2M551.7 428.47h4.2M556.41 419.95V428.48M554.31 419.95h4.2M554.31 428.48h4.2M559.02 419.95V428.48M556.92 419.95h4.2M556.92 428.48h4.2M561.63 424.12V432.68M559.53 424.12h4.2M559.53 432.68h4.2M564.24 424.11V432.69M562.14 424.11h4.2M562.14 432.69h4.2M566.85 424.11V432.69M564.75 424.11h4.2M564.75 432.69h4.2M569.46 424.1V432.7M567.36 424.1h4.2M567.36 432.7h4.2M572.07 424.09V432.71M569.97 424.09h4.2M569.97 432.71h4.2M574.68 424.08V432.72M572.58 424.08h4.2M572.58 432.72h4.2M577.29 424.07V432.73M575.19 424.07h4.2M575.19 432.73h4.2M579.9 424.06V432.74M577.8 424.06h4.2M577.8 432.74h4.2M582.51 424.06V432.74M580.41 424.06h4.2M580.41 432.74h4.2M585.12 424.05V432.75M583.02 424.05h4.2M583.02 432.75h4.2M587.73 424.04V432.76M585.63 424.04h4.2M585.63 432.76h4.2M590.34 424.03V432.77M588.24 424.03h4.2M588.24 432.77h4.2M592.95 424.02V432.78M590.85 424.02h4.2M590.85 432.78h4.2M595.56 424.02V432.78M593.46 424.02h4.2M593.46 432.78h4.2M598.17 424.01V432.79M596.07 424.01h4.2M596.07 432.79h4.2M600.78 424V432.8M598.68 424h4.2M598.68 432.8h4.2M603.39 423.99V432.81M601.29 423.99h4.2M601.29 432.81h4.2M606 423.98V432.82M603.9 423.98h4.2M603.9 432.82h4.2M608.61 423.97V432.83M606.51 423.97h4.2M606.51 432.83h4.2M611.22 423.97V432.83M609.12 423.97h4.2M609.12 432.83h4.2M613.83 423.96V432.84M611.73 423.96h4.2M611.73 432.84h4.2M616.44 423.95V432.85M614.34 423.95h4.2M614.34 432.85h4.2M619.05 423.94V432.86M616.95 423.94h4.2M616.95 432.86h4.2M621.66 423.93V432.87M619.56 423.93h4.2M619.56 432.87h4.2M624.27 423.92V432.88M622.17 423.92h4.2M622.17 432.88h4.2M626.88 423.92V432.88M624.78 423.92h4.2M624.78 432.88h4.2M629.49 423.91V432.89M627.39 423.91h4.2M627.39 432.89h4.2M632.1 423.9V432.9M630 423.9h4.2M630 432.9h4.2"/>
<path fill="none" stroke="#00ff00" stroke-width="0.9" d="M369.3 350.69h3.6v3.6h-3.6zM371.91 350.69h3.6v3.6h-3.6zM374.52 350.69h3.6v3.6h-3.6zM377.13 350.69h3.6v3.6h-3.6zM379.74 350.69h3.6v3.6h-3.6zM382.35 350.69h3.6v3.6h-3.6zM384.96 350.69h3.6v3.6h-3.6zM387.57 363.44h3.6v3.6h-3.6zM390.18 363.44h3.6v3.6h-3.6zM392.79 363.44h3.6v3.6h-3.6zM395.4 363.44h3.6v3.6h-3.6zM398.01 363.44h3.6v3.6h-3.6zM400.62 363.44h3.6v3.6h-3.6zM403.23 363.44h3.6v3.6h-3.6zM405.84 374.99h3.6v3.6h-3.6zM408.45 376.59h3.6v3.6h-3.6zM411.06 376.59h3.6v3.6h-3.6zM413.67 376.59h3.6v3.6h-3.6zM416.28 376.59h3.6v3.6h-3.6zM418.89 376.59h3.6v3.6h-3.6zM421.5 376.59h3.6v3.6h-3.6zM424.11 376.59h3.6v3.6h-3.6zM426.72 376.59h3.6v3.6h-3.6zM429.33 376.59h3.6v3.6h-3.6zM431.94 376.59h3.6v3.6h-3.6zM434.55 376.59h3.6v3.6h-3.6zM437.16 378.38h3.6v3.6h-3.6zM439.77 378.38h3.6v3.6h-3.6zM442.38 378.38h3.6v3.6h-3.6zM444.99 378.38h3.6v3.6h-3.6zM447.6 378.38h3.6v3.6h-3.6zM450.21 378.38h3.6v3.6h-3.6zM452.82 378.38h3.6v3.6h-3.6zM455.43 378.38h3.6v3.6h-3.6zM458.04 378.38h3.6v3.6h-3.6zM460.65 378.38h3.6v3.6h-3.6zM463.26 378.38h3.6v3.6h-3.6zM465.87 378.38h3.6v3.6h-3.6zM468.48 378.58h3.6v3.6h-3.6zM471.09 378.78h3.6v3.6h-3.6zM473.7 378.98h3.6v3.6h-3.6zM476.31 379.18h3.6v3.6h-3.6zM478.92 379.38h3.6v3.6h-3.6zM481.53 382.96h3.6v3.6h-3.6zM484.14 382.96h3.6v3.6h-3.6zM486.75 382.96h3.6v3.6h-3.6zM489.36 382.96h3.6v3.6h-3.6zM491.97 382.96h3.6v3.6h-3.6zM494.58 395.32h3.6v3.6h-3.6zM497.19 395.32h3.6v3.6h-3.6zM499.8 395.32h3.6v3.6h-3.6zM502.41 395.32h3.6v3.6h-3.6zM505.02 412.25h3.6v3.6h-3.6zM507.63 412.25h3.6v3.6h-3.6zM510.24 412.25h3.6v3.6h-3.6zM512.85 412.25h3.6v3.6h-3.6zM515.46 412.25h3.6v3.6h-3.6zM518.07 422.42h3.6v3.6h-3.6zM520.68 422.42h3.6v3.6h-3.6zM523.29 422.42h3.6v3.6h-3.6zM525.9 422.42h3.6v3.6h-3.6zM528.51 422.42h3.6v3.6h-3.6zM531.12 422.42h3.6v3.6h-3.6zM533.73 422.42h3.6v3.6h-3.6zM536.34 422.42h3.6v3.6h-3.6zM538.95 422.42h3.6v3.6h-3.6zM541.56 422.42h3.6v3.6h-3.6zM544.17 422.42h3.6v3.6h-3.6zM546.78 422.42h3.6v3.6h-3.6zM549.39 422.42h3.6v3.6h-3.6zM552 422.42h3.6v3.6h-3.6zM554.61 422.42h3.6v3.6h-3.6zM557.22 422.42h3.6v3.6h-3.6zM559.83 426.6h3.6v3.6h-3.6zM562.44 426.6h3.6v3.6h-3.6zM565.05 426.6h3.6v3.6h-3.6zM567.66 426.6h3.6v3.6h-3.6zM570.27 426.6h3.6v3.6h-3.6zM572.88 426.6h3.6v3.6h-3.6zM575.49 426.6h3.6v3.6h-3.6zM578.1 426.6h3.6v3.6h-3.6zM580.71 426.6h3.6v3.6h-3.6zM583.32 426.6h3.6v3.6h-3.6zM585.93 426.6h3.6v3.6h-3.6zM588.54 426.6h3.6v3.6h-3.6zM591.15 426.6h3.6v3.6h-3.6zM593.76 426.6h3.6v3.6h-3.6zM596.37 426.6h3.6v3.6h-3.6zM598.98 426.6h3.6v3.6h-3.6zM601.59 426.6h3.6v3.6h-3.6zM604.2 426.6h3.6v3.6h-3.6zM606.81 426.6h3.6v3.6h-3.6zM609.42 426.6h3.6v3.6h-3.6zM612.03 426.6h3.6v3.6h-3.6zM614.64 426.6h3.6v3.6h-3.6zM617.25 426.6h3.6v3.6h-3.6zM619.86 426.6h3.6v3.6h-3.6zM622.47 426.6h3.6v3.6h-3.6zM625.08 426.6h3.6v3.6h-3.6zM627.69 426.6h3.6v3.6h-3.6zM630.3 426.6h3.6v3.6h-3.6z"/>
<path fill="none" stroke="#555" stroke-width="1" d="M371.1 335.35V534.6H632.1M410.25 534.6v-2.6M462.45 534.6v-2.6M514.65 534.6v-2.6M566.85 534.6v-2.6M619.05 534.6v-2.6M371.1 534.6h2.6M371.1 494.75h2.6M371.1 454.9h2.6M371.1 415.05h2.6M371.1 375.2h2.6M371.1 335.35h2.6"/>
<text x="410.25" y="551.2" font-size="10.5" text-anchor="middle" font-weight="normal" font-family='"Liberation Sans", sans-serif' fill="#262626" textLength="19.27" lengthAdjust="spacingAndGlyphs">160</text>
<text x="462.45" y="551.2" font-size="10.5" text-anchor="middle" font-weight="normal" font-family='"Liberation Sans", sans-serif' fill="#262626" textLength="19.27" lengthAdjust="spacingAndGlyphs">180</text>
<text x="514.65" y="551.2" font-size="10.5" text-anchor="middle" font-weight="normal" font-family='"Liberation Sans", sans-serif' fill="#262626" textLength="19.27" lengthAdjust="spacingAndGlyphs">200</text>
<text x="566.85" y="551.2" font-size="10.5" text-anchor="middle" font-weight="normal" font-family='"Liberation Sans", sans-serif' fill="#262626" textLength="19.27" lengthAdjust="spacingAndGlyphs">220</text>
<text x="619.05" y="551.2" font-size="10.5" text-anchor="middle" font-weight="normal" font-family='"Liberation Sans", sans-serif' fill="#262626" textLength="19.27" lengthAdjust="spacingAndGlyphs">240</text>
<text x="366.8" y="539" font-size="10.5" text-anchor="end" font-weight="normal" font-family='"Liberation Sans", sans-serif' fill="#262626" textLength="22.48" lengthAdjust="spacingAndGlyphs">0.72</text>
<text x="366.8" y="499.15" font-size="10.5" text-anchor="end" font-weight="normal" font-family='"Liberation Sans", sans-serif' fill="#262626" textLength="22.48" lengthAdjust="spacingAndGlyphs">0.74</text>
<text x="366.8" y="459.3" font-size="10.5" text-anchor="end" font-weight="normal" font-family='"Liberation Sans", sans-serif' fill="#262626" textLength="22.48" lengthAdjust="spacingAndGlyphs">0.76</text>
<text x="366.8" y="419.45" font-size="10.5" text-anchor="end" font-weight="normal" font-family='"Liberation Sans", sans-serif' fill="#262626" textLength="22.48" lengthAdjust="spacingAndGlyphs">0.78</text>
<text x="366.8" y="379.6" font-size="10.5" text-anchor="end" font-weight="normal" font-family='"Liberation Sans", sans-serif' fill="#262626" textLength="16.05" lengthAdjust="spacingAndGlyphs">0.8</text>
<text x="366.8" y="339.75" font-size="10.5" text-anchor="end" font-weight="normal" font-family='"Liberation Sans", sans-serif' fill="#262626" textLength="22.48" lengthAdjust="spacingAndGlyphs">0.82</text>
<text x="501.2" y="330.2" font-size="11.7" text-anchor="middle" font-weight="bold" font-family='"Liberation Sans", sans-serif' fill="#000" textLength="82" lengthAdjust="spacingAndGlyphs">Hartmann - 6D</text>
<text x="501.25" y="565.6" font-size="12.2" text-anchor="middle" font-weight="normal" font-family='"Liberation Sans", sans-serif' fill="#262626" textLength="110.5" lengthAdjust="spacingAndGlyphs">Number of Iterations</text>
<text transform="translate(340 434.98) rotate(-90)" font-size="12.3" text-anchor="middle" font-family='"Liberation Sans", sans-serif' fill="#262626" textLength="78.4" lengthAdjust="spacingAndGlyphs">Simple Regret</text>
<text x="500.3" y="600.5" font-size="25" text-anchor="middle" font-weight="normal" font-family='"Liberation Serif", serif' fill="#000" textLength="189.4" lengthAdjust="spacingAndGlyphs">(d) 6D-Hartmann</text>
<rect x="518.25" y="341.75" width="107.75" height="42" fill="#fff" stroke="#6a6a6a" stroke-width="1"/>
<path fill="none" stroke="#ff00ff" stroke-width="0.9" d="M520.85 349.25h24M533.05 343.85v10.8M530.85 343.85h4.4M530.85 354.65h4.4M533.05 346.35l2.5 4.6h-5z"/>
<text x="547.25" y="353.65" font-size="10" text-anchor="start" font-weight="normal" font-family='"Liberation Sans", sans-serif' fill="#000" >Full GP</text>
<path fill="none" stroke="#0000ff" stroke-width="0.9" d="M520.85 362.6h24M533.05 357.2v10.8M530.85 357.2h4.4M530.85 368h4.4M533.05 359.7l2.5 4.6h-5z"/>
<text x="547.25" y="367" font-size="10" text-anchor="start" font-weight="normal" font-family='"Liberation Sans", sans-serif' fill="#000" >Enhanced SSGP</text>
<path fill="none" stroke="#00ff00" stroke-width="0.9" d="M520.85 375.95h24M533.05 370.55v10.8M530.85 370.55h4.4M530.85 381.35h4.4M530.65 375.95a2.4 2.4 0 1 0 4.8 0a2.4 2.4 0 1 0 -4.8 0"/>
<text x="547.25" y="380.35" font-size="10" text-anchor="start" font-weight="normal" font-family='"Liberation Sans", sans-serif' fill="#000" >SSGP</text>
</svg>
</body></html>
